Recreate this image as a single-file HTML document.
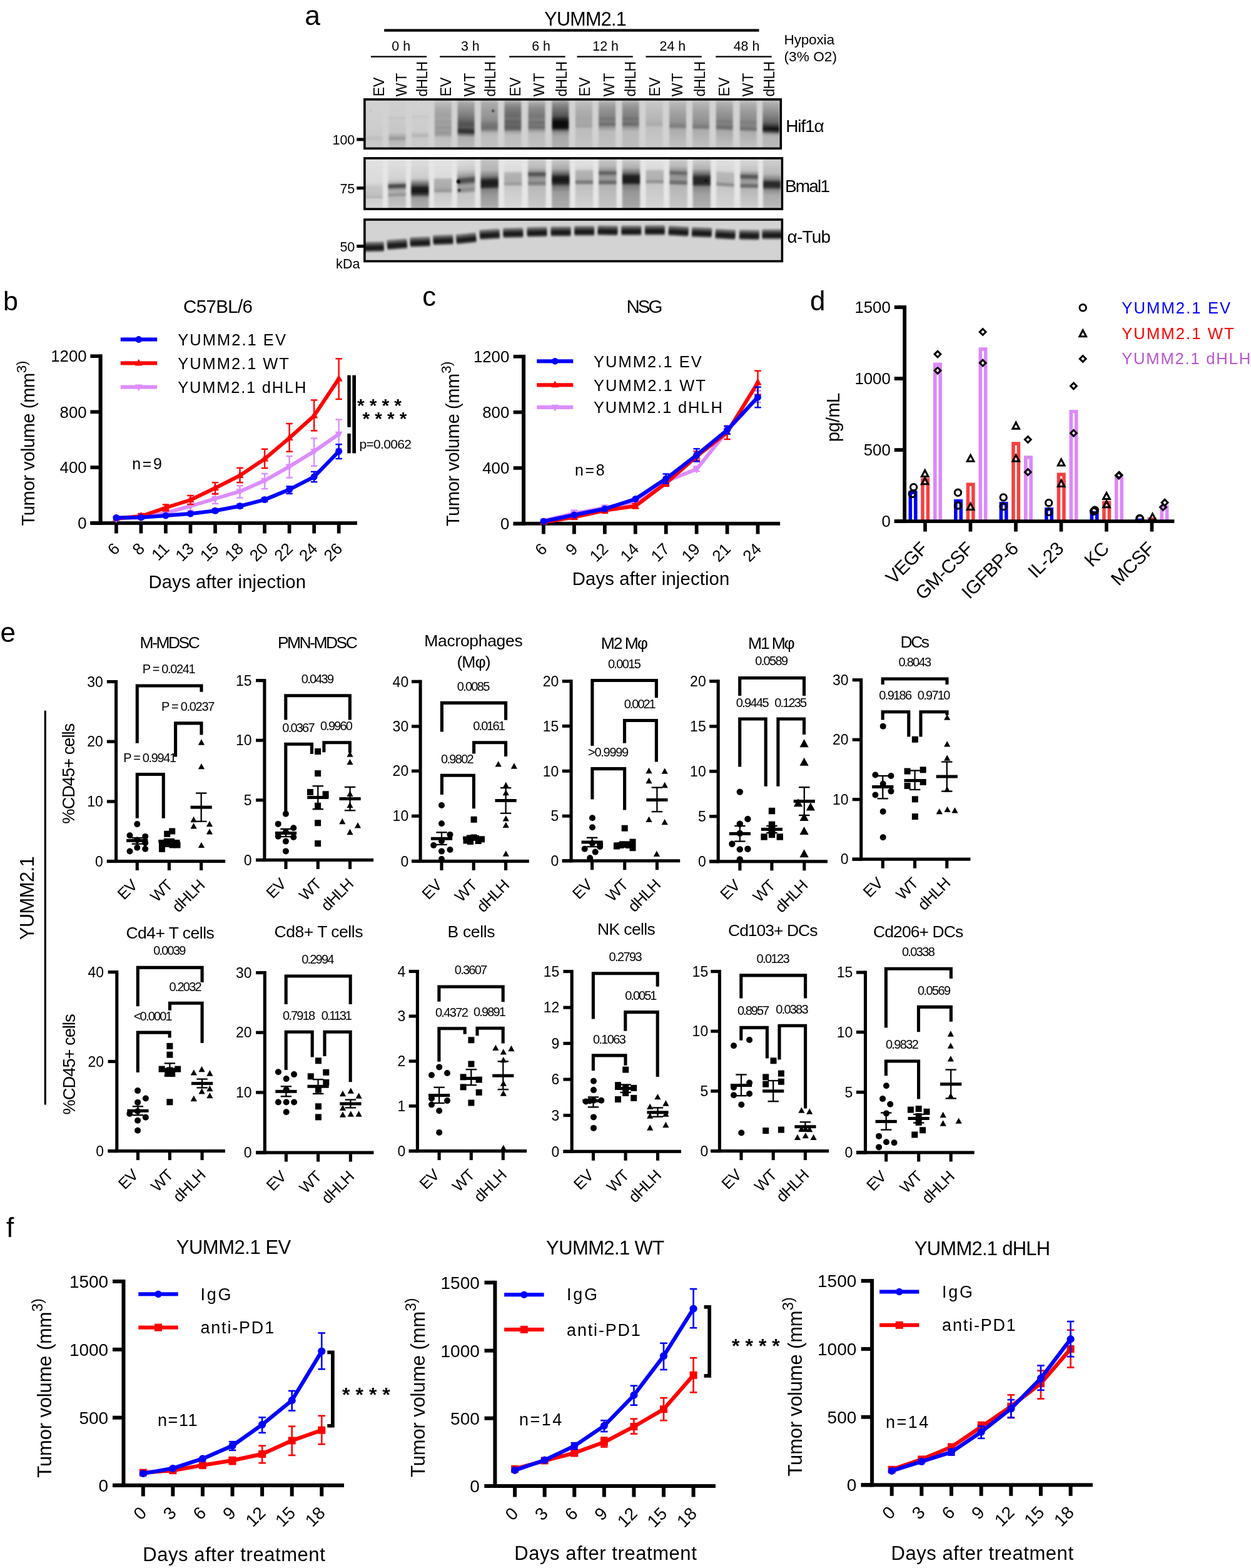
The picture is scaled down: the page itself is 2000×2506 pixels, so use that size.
<!DOCTYPE html>
<html lang="en"><head><meta charset="utf-8"><title>Figure</title>
<style>html,body{margin:0;padding:0;background:#fff}svg{display:block}text{font-family:"Liberation Sans",sans-serif}</style></head>
<body><svg xmlns="http://www.w3.org/2000/svg" width="2000" height="2506" viewBox="0 0 2000 2506">
<defs><filter id="bl1" x="-50%" y="-50%" width="200%" height="200%"><feGaussianBlur stdDeviation="0.8"/></filter><filter id="bl2" x="-20%" y="-50%" width="140%" height="200%"><feGaussianBlur stdDeviation="1.6"/></filter><filter id="blh" x="-5%" y="-20%" width="110%" height="140%"><feGaussianBlur stdDeviation="1.5 0.9"/></filter><filter id="bl3" x="-20%" y="-20%" width="140%" height="140%"><feGaussianBlur stdDeviation="2.2"/></filter></defs>
<rect width="2000" height="2506" fill="#fff"/>
<text x="487.3" y="39.5" font-size="44.5">a</text>
<text x="870.3" y="41" font-size="30.5" textLength="131.5" lengthAdjust="spacing">YUMM2.1</text>
<rect x="614.2" y="46.4" width="599.3" height="4.2" fill="#000"/>
<rect x="592.9" y="89.4" width="89.3" height="2.3" fill="#000"/>
<text x="641.2" y="80.9" font-size="21.4" text-anchor="middle">0 h</text>
<rect x="703.1" y="89.4" width="88.9" height="2.3" fill="#000"/>
<text x="751.8" y="80.9" font-size="21.4" text-anchor="middle">3 h</text>
<rect x="814.2" y="89.4" width="89.5" height="2.3" fill="#000"/>
<text x="865.05" y="80.9" font-size="21.4" text-anchor="middle">6 h</text>
<rect x="922.5" y="89.4" width="89.3" height="2.3" fill="#000"/>
<text x="968.15" y="80.9" font-size="21.4" text-anchor="middle">12 h</text>
<rect x="1032.5" y="89.4" width="89.3" height="2.3" fill="#000"/>
<text x="1075.35" y="80.9" font-size="21.4" text-anchor="middle">24 h</text>
<rect x="1144.2" y="89.4" width="89.5" height="2.3" fill="#000"/>
<text x="1193.55" y="80.9" font-size="21.4" text-anchor="middle">48 h</text>
<text transform="translate(614.4 154.2) rotate(-90)" font-size="23" textLength="30.6" lengthAdjust="spacing">EV</text>
<text transform="translate(650.1 154.2) rotate(-90)" font-size="23" textLength="37.6" lengthAdjust="spacing">WT</text>
<text transform="translate(683.4 154.4) rotate(-90)" font-size="23" textLength="56.5" lengthAdjust="spacing">dHLH</text>
<text transform="translate(720.7 154.2) rotate(-90)" font-size="23" textLength="30.6" lengthAdjust="spacing">EV</text>
<text transform="translate(759.1 154.2) rotate(-90)" font-size="23" textLength="37.6" lengthAdjust="spacing">WT</text>
<text transform="translate(791.6 154.4) rotate(-90)" font-size="23" textLength="56.5" lengthAdjust="spacing">dHLH</text>
<text transform="translate(831.8 154.2) rotate(-90)" font-size="23" textLength="30.6" lengthAdjust="spacing">EV</text>
<text transform="translate(870.4 154.2) rotate(-90)" font-size="23" textLength="37.6" lengthAdjust="spacing">WT</text>
<text transform="translate(905.6 154.4) rotate(-90)" font-size="23" textLength="56.5" lengthAdjust="spacing">dHLH</text>
<text transform="translate(943.4 154.2) rotate(-90)" font-size="23" textLength="30.6" lengthAdjust="spacing">EV</text>
<text transform="translate(981.6 154.2) rotate(-90)" font-size="23" textLength="37.6" lengthAdjust="spacing">WT</text>
<text transform="translate(1015.8 154.4) rotate(-90)" font-size="23" textLength="56.5" lengthAdjust="spacing">dHLH</text>
<text transform="translate(1054.5 154.2) rotate(-90)" font-size="23" textLength="30.6" lengthAdjust="spacing">EV</text>
<text transform="translate(1091.3 154.2) rotate(-90)" font-size="23" textLength="37.6" lengthAdjust="spacing">WT</text>
<text transform="translate(1127 154.4) rotate(-90)" font-size="23" textLength="56.5" lengthAdjust="spacing">dHLH</text>
<text transform="translate(1165.7 154.2) rotate(-90)" font-size="23" textLength="30.6" lengthAdjust="spacing">EV</text>
<text transform="translate(1203.6 154.2) rotate(-90)" font-size="23" textLength="37.6" lengthAdjust="spacing">WT</text>
<text transform="translate(1237.6 154.4) rotate(-90)" font-size="23" textLength="56.5" lengthAdjust="spacing">dHLH</text>
<text x="1253.5" y="71.2" font-size="22.6" textLength="80.5" lengthAdjust="spacing">Hypoxia</text>
<text x="1253.5" y="97.6" font-size="22.6" textLength="84.5" lengthAdjust="spacing">(3% O2)</text>
<text x="1256.2" y="211.2" font-size="28" textLength="61.5" lengthAdjust="spacing">Hif1α</text>
<text x="1255" y="306.8" font-size="28" textLength="72" lengthAdjust="spacing">Bmal1</text>
<text x="1258.5" y="388.2" font-size="28" textLength="69.5" lengthAdjust="spacing">α-Tub</text>
<text x="567.3" y="231" font-size="21.5" text-anchor="end">100</text>
<rect x="570.2" y="220.4" width="11" height="5" fill="#000"/>
<text x="567.3" y="309.2" font-size="21.5" text-anchor="end">75</text>
<rect x="570.2" y="298.1" width="11" height="5" fill="#000"/>
<text x="567.3" y="401.6" font-size="21.5" text-anchor="end">50</text>
<rect x="570.2" y="391" width="11" height="5" fill="#000"/>
<text x="537" y="428.8" font-size="21.5" textLength="38.5" lengthAdjust="spacing">kDa</text>
<clipPath id="bc1"><rect x="581.1" y="157.1" width="669" height="82"/></clipPath>
<linearGradient id="g1_0" gradientUnits="userSpaceOnUse" x1="0" y1="160" x2="0" y2="236"><stop offset="0" stop-color="#d2d2d2"/><stop offset="0.53" stop-color="#cecece"/><stop offset="0.74" stop-color="#cacaca"/><stop offset="0.8" stop-color="#bebebe"/><stop offset="0.87" stop-color="#c8c8c8"/><stop offset="1" stop-color="#cbcbcb"/></linearGradient>
<linearGradient id="g1_1" gradientUnits="userSpaceOnUse" x1="0" y1="160" x2="0" y2="236"><stop offset="0" stop-color="#d0d0d0"/><stop offset="0.34" stop-color="#cdcdcd"/><stop offset="0.38" stop-color="#c1c1c1"/><stop offset="0.41" stop-color="#cbcbcb"/><stop offset="0.68" stop-color="#c6c6c6"/><stop offset="0.76" stop-color="#acacac"/><stop offset="0.81" stop-color="#969696"/><stop offset="0.86" stop-color="#b6b6b6"/><stop offset="1" stop-color="#c2c2c2"/></linearGradient>
<linearGradient id="g1_2" gradientUnits="userSpaceOnUse" x1="0" y1="160" x2="0" y2="236"><stop offset="0" stop-color="#d2d2d2"/><stop offset="0.32" stop-color="#cfcfcf"/><stop offset="0.35" stop-color="#c5c5c5"/><stop offset="0.38" stop-color="#cfcfcf"/><stop offset="0.66" stop-color="#cccccc"/><stop offset="0.75" stop-color="#b2b2b2"/><stop offset="0.8" stop-color="#c8c8c8"/><stop offset="1" stop-color="#cbcbcb"/></linearGradient>
<linearGradient id="g1_3" gradientUnits="userSpaceOnUse" x1="0" y1="160" x2="0" y2="236"><stop offset="0" stop-color="#c6c6c6"/><stop offset="0.08" stop-color="#b9b9b9"/><stop offset="0.16" stop-color="#acacac"/><stop offset="0.26" stop-color="#a5a5a5"/><stop offset="0.34" stop-color="#a0a0a0"/><stop offset="0.39" stop-color="#a5a5a5"/><stop offset="0.46" stop-color="#9b9b9b"/><stop offset="0.51" stop-color="#a2a2a2"/><stop offset="0.58" stop-color="#969696"/><stop offset="0.63" stop-color="#9e9e9e"/><stop offset="0.7" stop-color="#969696"/><stop offset="0.75" stop-color="#aaaaaa"/><stop offset="0.8" stop-color="#c0c0c0"/><stop offset="1" stop-color="#c4c4c4"/></linearGradient>
<linearGradient id="g1_4" gradientUnits="userSpaceOnUse" x1="0" y1="160" x2="0" y2="236"><stop offset="0" stop-color="#bebebe"/><stop offset="0.07" stop-color="#a5a5a5"/><stop offset="0.16" stop-color="#969696"/><stop offset="0.26" stop-color="#878787"/><stop offset="0.37" stop-color="#737373"/><stop offset="0.45" stop-color="#5f5f5f"/><stop offset="0.51" stop-color="#505050"/><stop offset="0.57" stop-color="#5a5a5a"/><stop offset="0.63" stop-color="#373737"/><stop offset="0.68" stop-color="#323232"/><stop offset="0.72" stop-color="#6e6e6e"/><stop offset="0.78" stop-color="#afafaf"/><stop offset="1" stop-color="#bababa"/></linearGradient>
<linearGradient id="g1_5" gradientUnits="userSpaceOnUse" x1="0" y1="160" x2="0" y2="236"><stop offset="0" stop-color="#bebebe"/><stop offset="0.08" stop-color="#a8a8a8"/><stop offset="0.2" stop-color="#9e9e9e"/><stop offset="0.33" stop-color="#969696"/><stop offset="0.42" stop-color="#8c8c8c"/><stop offset="0.5" stop-color="#787878"/><stop offset="0.58" stop-color="#6e6e6e"/><stop offset="0.63" stop-color="#828282"/><stop offset="0.68" stop-color="#afafaf"/><stop offset="0.76" stop-color="#bebebe"/><stop offset="1" stop-color="#c2c2c2"/></linearGradient>
<linearGradient id="g1_6" gradientUnits="userSpaceOnUse" x1="0" y1="160" x2="0" y2="236"><stop offset="0" stop-color="#b9b9b9"/><stop offset="0.08" stop-color="#969696"/><stop offset="0.16" stop-color="#7d7d7d"/><stop offset="0.26" stop-color="#707070"/><stop offset="0.34" stop-color="#696969"/><stop offset="0.39" stop-color="#737373"/><stop offset="0.46" stop-color="#5f5f5f"/><stop offset="0.51" stop-color="#696969"/><stop offset="0.57" stop-color="#5a5a5a"/><stop offset="0.62" stop-color="#6e6e6e"/><stop offset="0.67" stop-color="#a5a5a5"/><stop offset="0.74" stop-color="#bcbcbc"/><stop offset="1" stop-color="#c2c2c2"/></linearGradient>
<linearGradient id="g1_7" gradientUnits="userSpaceOnUse" x1="0" y1="160" x2="0" y2="236"><stop offset="0" stop-color="#bebebe"/><stop offset="0.08" stop-color="#a5a5a5"/><stop offset="0.16" stop-color="#8c8c8c"/><stop offset="0.26" stop-color="#808080"/><stop offset="0.34" stop-color="#767676"/><stop offset="0.41" stop-color="#808080"/><stop offset="0.47" stop-color="#707070"/><stop offset="0.53" stop-color="#787878"/><stop offset="0.58" stop-color="#6c6c6c"/><stop offset="0.63" stop-color="#969696"/><stop offset="0.7" stop-color="#bababa"/><stop offset="1" stop-color="#c3c3c3"/></linearGradient>
<linearGradient id="g1_8" gradientUnits="userSpaceOnUse" x1="0" y1="160" x2="0" y2="236"><stop offset="0" stop-color="#afafaf"/><stop offset="0.08" stop-color="#8c8c8c"/><stop offset="0.16" stop-color="#787878"/><stop offset="0.26" stop-color="#646464"/><stop offset="0.34" stop-color="#505050"/><stop offset="0.39" stop-color="#2d2d2d"/><stop offset="0.45" stop-color="#0f0f0f"/><stop offset="0.53" stop-color="#080808"/><stop offset="0.58" stop-color="#0c0c0c"/><stop offset="0.62" stop-color="#464646"/><stop offset="0.67" stop-color="#8c8c8c"/><stop offset="0.76" stop-color="#a8a8a8"/><stop offset="1" stop-color="#b2b2b2"/></linearGradient>
<linearGradient id="g1_9" gradientUnits="userSpaceOnUse" x1="0" y1="160" x2="0" y2="236"><stop offset="0" stop-color="#c6c6c6"/><stop offset="0.13" stop-color="#b6b6b6"/><stop offset="0.26" stop-color="#acacac"/><stop offset="0.39" stop-color="#a5a5a5"/><stop offset="0.5" stop-color="#a8a8a8"/><stop offset="0.54" stop-color="#a0a0a0"/><stop offset="0.61" stop-color="#bcbcbc"/><stop offset="1" stop-color="#c5c5c5"/></linearGradient>
<linearGradient id="g1_10" gradientUnits="userSpaceOnUse" x1="0" y1="160" x2="0" y2="236"><stop offset="0" stop-color="#bebebe"/><stop offset="0.08" stop-color="#a5a5a5"/><stop offset="0.2" stop-color="#919191"/><stop offset="0.33" stop-color="#878787"/><stop offset="0.39" stop-color="#767676"/><stop offset="0.45" stop-color="#808080"/><stop offset="0.51" stop-color="#6c6c6c"/><stop offset="0.58" stop-color="#9b9b9b"/><stop offset="0.66" stop-color="#bababa"/><stop offset="1" stop-color="#c1c1c1"/></linearGradient>
<linearGradient id="g1_11" gradientUnits="userSpaceOnUse" x1="0" y1="160" x2="0" y2="236"><stop offset="0" stop-color="#bcbcbc"/><stop offset="0.08" stop-color="#a0a0a0"/><stop offset="0.2" stop-color="#8c8c8c"/><stop offset="0.33" stop-color="#808080"/><stop offset="0.39" stop-color="#707070"/><stop offset="0.45" stop-color="#7a7a7a"/><stop offset="0.51" stop-color="#696969"/><stop offset="0.58" stop-color="#9b9b9b"/><stop offset="0.66" stop-color="#b8b8b8"/><stop offset="1" stop-color="#bebebe"/></linearGradient>
<linearGradient id="g1_12" gradientUnits="userSpaceOnUse" x1="0" y1="160" x2="0" y2="236"><stop offset="0" stop-color="#cccccc"/><stop offset="0.16" stop-color="#c0c0c0"/><stop offset="0.39" stop-color="#b6b6b6"/><stop offset="0.52" stop-color="#acacac"/><stop offset="0.58" stop-color="#c0c0c0"/><stop offset="1" stop-color="#c9c9c9"/></linearGradient>
<linearGradient id="g1_13" gradientUnits="userSpaceOnUse" x1="0" y1="160" x2="0" y2="236"><stop offset="0" stop-color="#c4c4c4"/><stop offset="0.11" stop-color="#b2b2b2"/><stop offset="0.26" stop-color="#a2a2a2"/><stop offset="0.39" stop-color="#989898"/><stop offset="0.47" stop-color="#919191"/><stop offset="0.55" stop-color="#7a7a7a"/><stop offset="0.62" stop-color="#acacac"/><stop offset="1" stop-color="#c3c3c3"/></linearGradient>
<linearGradient id="g1_14" gradientUnits="userSpaceOnUse" x1="0" y1="160" x2="0" y2="236"><stop offset="0" stop-color="#c2c2c2"/><stop offset="0.11" stop-color="#afafaf"/><stop offset="0.26" stop-color="#a0a0a0"/><stop offset="0.39" stop-color="#969696"/><stop offset="0.49" stop-color="#8c8c8c"/><stop offset="0.57" stop-color="#767676"/><stop offset="0.63" stop-color="#acacac"/><stop offset="1" stop-color="#c1c1c1"/></linearGradient>
<linearGradient id="g1_15" gradientUnits="userSpaceOnUse" x1="0" y1="160" x2="0" y2="236"><stop offset="0" stop-color="#c0c0c0"/><stop offset="0.11" stop-color="#a8a8a8"/><stop offset="0.26" stop-color="#969696"/><stop offset="0.39" stop-color="#8a8a8a"/><stop offset="0.45" stop-color="#7a7a7a"/><stop offset="0.51" stop-color="#828282"/><stop offset="0.58" stop-color="#696969"/><stop offset="0.65" stop-color="#a8a8a8"/><stop offset="1" stop-color="#c3c3c3"/></linearGradient>
<linearGradient id="g1_16" gradientUnits="userSpaceOnUse" x1="0" y1="160" x2="0" y2="236"><stop offset="0" stop-color="#c2c2c2"/><stop offset="0.11" stop-color="#aaaaaa"/><stop offset="0.26" stop-color="#989898"/><stop offset="0.39" stop-color="#8e8e8e"/><stop offset="0.47" stop-color="#7d7d7d"/><stop offset="0.53" stop-color="#878787"/><stop offset="0.61" stop-color="#6e6e6e"/><stop offset="0.67" stop-color="#acacac"/><stop offset="1" stop-color="#c4c4c4"/></linearGradient>
<linearGradient id="g1_17" gradientUnits="userSpaceOnUse" x1="0" y1="160" x2="0" y2="236"><stop offset="0" stop-color="#c0c0c0"/><stop offset="0.08" stop-color="#acacac"/><stop offset="0.2" stop-color="#989898"/><stop offset="0.33" stop-color="#828282"/><stop offset="0.47" stop-color="#646464"/><stop offset="0.55" stop-color="#323232"/><stop offset="0.61" stop-color="#0f0f0f"/><stop offset="0.66" stop-color="#3c3c3c"/><stop offset="0.71" stop-color="#969696"/><stop offset="0.76" stop-color="#b4b4b4"/><stop offset="1" stop-color="#bababa"/></linearGradient>
<g clip-path="url(#bc1)">
<rect x="581.1" y="157.1" width="669" height="82" fill="#d2d2d2"/>
<g filter="url(#blh)">
<rect x="584.6" y="151.1" width="27" height="94" fill="url(#g1_0)"/>
<rect x="621.5" y="151.1" width="27" height="94" fill="url(#g1_1)"/>
<rect x="658.1" y="151.1" width="27" height="94" fill="url(#g1_2)"/>
<rect x="694.8" y="151.1" width="27" height="94" fill="url(#g1_3)"/>
<rect x="731.6" y="151.1" width="27" height="94" fill="url(#g1_4)" transform="translate(745.1 0) skewY(2) translate(-745.1 0)"/>
<rect x="769" y="151.1" width="27" height="94" fill="url(#g1_5)"/>
<rect x="806.4" y="151.1" width="27" height="94" fill="url(#g1_6)"/>
<rect x="844.5" y="151.1" width="27" height="94" fill="url(#g1_7)"/>
<rect x="882.4" y="151.1" width="27" height="94" fill="url(#g1_8)"/>
<rect x="919.9" y="151.1" width="27" height="94" fill="url(#g1_9)"/>
<rect x="957.1" y="151.1" width="27" height="94" fill="url(#g1_10)"/>
<rect x="994.7" y="151.1" width="27" height="94" fill="url(#g1_11)"/>
<rect x="1032.3" y="151.1" width="27" height="94" fill="url(#g1_12)"/>
<rect x="1070" y="151.1" width="27" height="94" fill="url(#g1_13)" transform="translate(1083.5 0) skewY(1) translate(-1083.5 0)"/>
<rect x="1107.1" y="151.1" width="27" height="94" fill="url(#g1_14)" transform="translate(1120.6 0) skewY(1) translate(-1120.6 0)"/>
<rect x="1144.7" y="151.1" width="27" height="94" fill="url(#g1_15)" transform="translate(1158.2 0) skewY(2) translate(-1158.2 0)"/>
<rect x="1182.8" y="151.1" width="27" height="94" fill="url(#g1_16)" transform="translate(1196.3 0) skewY(2) translate(-1196.3 0)"/>
<rect x="1219.2" y="151.1" width="27" height="94" fill="url(#g1_17)" transform="translate(1232.7 0) skewY(2) translate(-1232.7 0)"/>
</g>
<g filter="url(#bl1)">
<circle cx="788.2" cy="177.2" r="1.7" fill="#141414"/>
<circle cx="593" cy="177.5" r="1.3" fill="#b9b9b9"/>
</g>
</g>
<rect x="582.9" y="158.9" width="665.4" height="78.4" fill="none" stroke="#000" stroke-width="3.6"/>
<clipPath id="bc2"><rect x="581.1" y="251.1" width="671.1" height="84.8"/></clipPath>
<linearGradient id="g2_0" gradientUnits="userSpaceOnUse" x1="0" y1="254" x2="0" y2="333"><stop offset="0" stop-color="#e2e2e2"/><stop offset="0.48" stop-color="#dadada"/><stop offset="0.57" stop-color="#c6c6c6"/><stop offset="0.73" stop-color="#c0c0c0"/><stop offset="0.78" stop-color="#b2b2b2"/><stop offset="0.81" stop-color="#d0d0d0"/><stop offset="1" stop-color="#d6d6d6"/></linearGradient>
<linearGradient id="g2_1" gradientUnits="userSpaceOnUse" x1="0" y1="254" x2="0" y2="333"><stop offset="0" stop-color="#e1e1e1"/><stop offset="0.41" stop-color="#d2d2d2"/><stop offset="0.48" stop-color="#b4b4b4"/><stop offset="0.53" stop-color="#4e4e4e"/><stop offset="0.57" stop-color="#4e4e4e"/><stop offset="0.61" stop-color="#969696"/><stop offset="0.66" stop-color="#b2b2b2"/><stop offset="0.73" stop-color="#949494"/><stop offset="0.78" stop-color="#b9b9b9"/><stop offset="1" stop-color="#c6c6c6"/></linearGradient>
<linearGradient id="g2_2" gradientUnits="userSpaceOnUse" x1="0" y1="254" x2="0" y2="333"><stop offset="0" stop-color="#dedede"/><stop offset="0.39" stop-color="#cdcdcd"/><stop offset="0.51" stop-color="#6e6e6e"/><stop offset="0.58" stop-color="#222222"/><stop offset="0.66" stop-color="#161616"/><stop offset="0.72" stop-color="#3c3c3c"/><stop offset="0.78" stop-color="#969696"/><stop offset="0.86" stop-color="#a5a5a5"/><stop offset="1" stop-color="#acacac"/></linearGradient>
<linearGradient id="g2_3" gradientUnits="userSpaceOnUse" x1="0" y1="254" x2="0" y2="333"><stop offset="0" stop-color="#e4e4e4"/><stop offset="0.37" stop-color="#dcdcdc"/><stop offset="0.42" stop-color="#b2b2b2"/><stop offset="0.58" stop-color="#aaaaaa"/><stop offset="0.65" stop-color="#969696"/><stop offset="0.7" stop-color="#c8c8c8"/><stop offset="1" stop-color="#dadada"/></linearGradient>
<linearGradient id="g2_4" gradientUnits="userSpaceOnUse" x1="0" y1="254" x2="0" y2="333"><stop offset="0" stop-color="#dedede"/><stop offset="0.2" stop-color="#cdcdcd"/><stop offset="0.28" stop-color="#b6b6b6"/><stop offset="0.35" stop-color="#969696"/><stop offset="0.39" stop-color="#646464"/><stop offset="0.42" stop-color="#4e4e4e"/><stop offset="0.45" stop-color="#4e4e4e"/><stop offset="0.48" stop-color="#646464"/><stop offset="0.52" stop-color="#969696"/><stop offset="0.56" stop-color="#a5a5a5"/><stop offset="0.59" stop-color="#969696"/><stop offset="0.63" stop-color="#8c8c8c"/><stop offset="0.66" stop-color="#9b9b9b"/><stop offset="0.7" stop-color="#c3c3c3"/><stop offset="1" stop-color="#d0d0d0"/></linearGradient>
<linearGradient id="g2_5" gradientUnits="userSpaceOnUse" x1="0" y1="254" x2="0" y2="333"><stop offset="0" stop-color="#c4c4c4"/><stop offset="0.23" stop-color="#b4b4b4"/><stop offset="0.35" stop-color="#7d7d7d"/><stop offset="0.43" stop-color="#282828"/><stop offset="0.49" stop-color="#1a1a1a"/><stop offset="0.56" stop-color="#282828"/><stop offset="0.62" stop-color="#828282"/><stop offset="0.73" stop-color="#989898"/><stop offset="0.86" stop-color="#a2a2a2"/><stop offset="1" stop-color="#aeaeae"/></linearGradient>
<linearGradient id="g2_6" gradientUnits="userSpaceOnUse" x1="0" y1="254" x2="0" y2="333"><stop offset="0" stop-color="#e4e4e4"/><stop offset="0.24" stop-color="#dcdcdc"/><stop offset="0.29" stop-color="#b4b4b4"/><stop offset="0.46" stop-color="#acacac"/><stop offset="0.51" stop-color="#989898"/><stop offset="0.56" stop-color="#c8c8c8"/><stop offset="1" stop-color="#dadada"/></linearGradient>
<linearGradient id="g2_7" gradientUnits="userSpaceOnUse" x1="0" y1="254" x2="0" y2="333"><stop offset="0" stop-color="#cdcdcd"/><stop offset="0.18" stop-color="#b9b9b9"/><stop offset="0.25" stop-color="#969696"/><stop offset="0.29" stop-color="#555555"/><stop offset="0.33" stop-color="#555555"/><stop offset="0.37" stop-color="#8c8c8c"/><stop offset="0.43" stop-color="#9b9b9b"/><stop offset="0.48" stop-color="#808080"/><stop offset="0.51" stop-color="#808080"/><stop offset="0.56" stop-color="#b9b9b9"/><stop offset="1" stop-color="#cacaca"/></linearGradient>
<linearGradient id="g2_8" gradientUnits="userSpaceOnUse" x1="0" y1="254" x2="0" y2="333"><stop offset="0" stop-color="#cdcdcd"/><stop offset="0.2" stop-color="#aaaaaa"/><stop offset="0.3" stop-color="#646464"/><stop offset="0.37" stop-color="#1e1e1e"/><stop offset="0.43" stop-color="#161616"/><stop offset="0.49" stop-color="#272727"/><stop offset="0.56" stop-color="#787878"/><stop offset="0.68" stop-color="#9b9b9b"/><stop offset="0.84" stop-color="#a5a5a5"/><stop offset="1" stop-color="#acacac"/></linearGradient>
<linearGradient id="g2_9" gradientUnits="userSpaceOnUse" x1="0" y1="254" x2="0" y2="333"><stop offset="0" stop-color="#e4e4e4"/><stop offset="0.2" stop-color="#d7d7d7"/><stop offset="0.25" stop-color="#b4b4b4"/><stop offset="0.41" stop-color="#acacac"/><stop offset="0.45" stop-color="#7d7d7d"/><stop offset="0.49" stop-color="#7d7d7d"/><stop offset="0.53" stop-color="#bebebe"/><stop offset="1" stop-color="#d4d4d4"/></linearGradient>
<linearGradient id="g2_10" gradientUnits="userSpaceOnUse" x1="0" y1="254" x2="0" y2="333"><stop offset="0" stop-color="#c8c8c8"/><stop offset="0.15" stop-color="#b6b6b6"/><stop offset="0.23" stop-color="#969696"/><stop offset="0.27" stop-color="#626262"/><stop offset="0.3" stop-color="#626262"/><stop offset="0.34" stop-color="#919191"/><stop offset="0.41" stop-color="#9b9b9b"/><stop offset="0.46" stop-color="#696969"/><stop offset="0.49" stop-color="#696969"/><stop offset="0.54" stop-color="#b4b4b4"/><stop offset="1" stop-color="#c6c6c6"/></linearGradient>
<linearGradient id="g2_11" gradientUnits="userSpaceOnUse" x1="0" y1="254" x2="0" y2="333"><stop offset="0" stop-color="#cdcdcd"/><stop offset="0.18" stop-color="#afafaf"/><stop offset="0.28" stop-color="#6e6e6e"/><stop offset="0.34" stop-color="#282828"/><stop offset="0.41" stop-color="#181818"/><stop offset="0.48" stop-color="#232323"/><stop offset="0.54" stop-color="#7d7d7d"/><stop offset="0.66" stop-color="#969696"/><stop offset="0.84" stop-color="#a0a0a0"/><stop offset="1" stop-color="#a8a8a8"/></linearGradient>
<linearGradient id="g2_12" gradientUnits="userSpaceOnUse" x1="0" y1="254" x2="0" y2="333"><stop offset="0" stop-color="#e4e4e4"/><stop offset="0.2" stop-color="#dadada"/><stop offset="0.25" stop-color="#b6b6b6"/><stop offset="0.41" stop-color="#b0b0b0"/><stop offset="0.46" stop-color="#8c8c8c"/><stop offset="0.52" stop-color="#c6c6c6"/><stop offset="1" stop-color="#d6d6d6"/></linearGradient>
<linearGradient id="g2_13" gradientUnits="userSpaceOnUse" x1="0" y1="254" x2="0" y2="333"><stop offset="0" stop-color="#cdcdcd"/><stop offset="0.15" stop-color="#b9b9b9"/><stop offset="0.23" stop-color="#969696"/><stop offset="0.27" stop-color="#696969"/><stop offset="0.3" stop-color="#696969"/><stop offset="0.34" stop-color="#919191"/><stop offset="0.41" stop-color="#989898"/><stop offset="0.46" stop-color="#707070"/><stop offset="0.5" stop-color="#707070"/><stop offset="0.54" stop-color="#b4b4b4"/><stop offset="1" stop-color="#c8c8c8"/></linearGradient>
<linearGradient id="g2_14" gradientUnits="userSpaceOnUse" x1="0" y1="254" x2="0" y2="333"><stop offset="0" stop-color="#d0d0d0"/><stop offset="0.2" stop-color="#b2b2b2"/><stop offset="0.3" stop-color="#6e6e6e"/><stop offset="0.37" stop-color="#2d2d2d"/><stop offset="0.44" stop-color="#242424"/><stop offset="0.51" stop-color="#2d2d2d"/><stop offset="0.57" stop-color="#878787"/><stop offset="0.71" stop-color="#a0a0a0"/><stop offset="1" stop-color="#b2b2b2"/></linearGradient>
<linearGradient id="g2_15" gradientUnits="userSpaceOnUse" x1="0" y1="254" x2="0" y2="333"><stop offset="0" stop-color="#e1e1e1"/><stop offset="0.24" stop-color="#d7d7d7"/><stop offset="0.29" stop-color="#b9b9b9"/><stop offset="0.46" stop-color="#b2b2b2"/><stop offset="0.52" stop-color="#878787"/><stop offset="0.58" stop-color="#c6c6c6"/><stop offset="1" stop-color="#d6d6d6"/></linearGradient>
<linearGradient id="g2_16" gradientUnits="userSpaceOnUse" x1="0" y1="254" x2="0" y2="333"><stop offset="0" stop-color="#dadada"/><stop offset="0.23" stop-color="#c3c3c3"/><stop offset="0.3" stop-color="#969696"/><stop offset="0.34" stop-color="#585858"/><stop offset="0.38" stop-color="#585858"/><stop offset="0.42" stop-color="#919191"/><stop offset="0.48" stop-color="#a0a0a0"/><stop offset="0.53" stop-color="#6c6c6c"/><stop offset="0.56" stop-color="#6c6c6c"/><stop offset="0.61" stop-color="#b6b6b6"/><stop offset="1" stop-color="#d0d0d0"/></linearGradient>
<linearGradient id="g2_17" gradientUnits="userSpaceOnUse" x1="0" y1="254" x2="0" y2="333"><stop offset="0" stop-color="#d0d0d0"/><stop offset="0.3" stop-color="#b9b9b9"/><stop offset="0.41" stop-color="#828282"/><stop offset="0.47" stop-color="#323232"/><stop offset="0.51" stop-color="#272727"/><stop offset="0.57" stop-color="#323232"/><stop offset="0.63" stop-color="#8c8c8c"/><stop offset="0.73" stop-color="#aaaaaa"/><stop offset="1" stop-color="#bcbcbc"/></linearGradient>
<g clip-path="url(#bc2)">
<rect x="581.1" y="251.1" width="671.1" height="84.8" fill="#e6e6e6"/>
<g filter="url(#blh)">
<rect x="583.4" y="245.1" width="28.5" height="96.8" fill="url(#g2_0)"/>
<rect x="620.42" y="245.1" width="28.5" height="96.8" fill="url(#g2_1)" transform="translate(634.67 0) skewY(-2) translate(-634.67 0)"/>
<rect x="657.13" y="245.1" width="28.5" height="96.8" fill="url(#g2_2)"/>
<rect x="693.94" y="245.1" width="28.5" height="96.8" fill="url(#g2_3)"/>
<rect x="730.86" y="245.1" width="28.5" height="96.8" fill="url(#g2_4)" transform="translate(745.11 0) skewY(-5) translate(-745.11 0)"/>
<rect x="768.37" y="245.1" width="28.5" height="96.8" fill="url(#g2_5)" transform="translate(782.62 0) skewY(-2) translate(-782.62 0)"/>
<rect x="805.89" y="245.1" width="28.5" height="96.8" fill="url(#g2_6)"/>
<rect x="844.11" y="245.1" width="28.5" height="96.8" fill="url(#g2_7)"/>
<rect x="882.13" y="245.1" width="28.5" height="96.8" fill="url(#g2_8)"/>
<rect x="919.74" y="245.1" width="28.5" height="96.8" fill="url(#g2_9)"/>
<rect x="957.06" y="245.1" width="28.5" height="96.8" fill="url(#g2_10)"/>
<rect x="994.77" y="245.1" width="28.5" height="96.8" fill="url(#g2_11)"/>
<rect x="1032.49" y="245.1" width="28.5" height="96.8" fill="url(#g2_12)"/>
<rect x="1070.31" y="245.1" width="28.5" height="96.8" fill="url(#g2_13)" transform="translate(1084.56 0) skewY(2) translate(-1084.56 0)"/>
<rect x="1107.52" y="245.1" width="28.5" height="96.8" fill="url(#g2_14)"/>
<rect x="1145.24" y="245.1" width="28.5" height="96.8" fill="url(#g2_15)" transform="translate(1159.49 0) skewY(4) translate(-1159.49 0)"/>
<rect x="1183.46" y="245.1" width="28.5" height="96.8" fill="url(#g2_16)" transform="translate(1197.71 0) skewY(1) translate(-1197.71 0)"/>
<rect x="1219.97" y="245.1" width="28.5" height="96.8" fill="url(#g2_17)" transform="translate(1234.22 0) skewY(1) translate(-1234.22 0)"/>
</g>
<g filter="url(#bl1)">
<circle cx="733" cy="290.1" r="2.9" fill="#000000"/>
<circle cx="734.4" cy="304.1" r="2.3" fill="#323232"/>
<circle cx="1128.5" cy="288.8" r="1.8" fill="#000000"/>
</g>
</g>
<rect x="582.9" y="252.9" width="667.5" height="81.2" fill="none" stroke="#000" stroke-width="3.6"/>
<clipPath id="bc3"><rect x="581.1" y="349.2" width="671.1" height="70.1"/></clipPath>
<g clip-path="url(#bc3)">
<rect x="581.1" y="349.2" width="671.1" height="70.1" fill="#d3d3d3"/>
<g filter="url(#bl2)">
<rect x="581.6" y="386.25" width="32.5" height="16.5" rx="2.5" fill="#737373" opacity="0.85" transform="rotate(-1 597.85 394.5)"/>
<rect x="581.85" y="389.3" width="32" height="12" rx="2.5" fill="#414141" opacity="0.85" transform="rotate(-1 597.85 394.5)"/>
<rect x="582.1" y="392.55" width="31.5" height="7.5" rx="2.5" fill="#191919" opacity="0.85" transform="rotate(-1 597.85 394.5)"/>
<rect x="618.62" y="382.25" width="32.5" height="16.5" rx="2.5" fill="#737373" opacity="0.85" transform="rotate(-4 634.87 390.5)"/>
<rect x="618.87" y="385.3" width="32" height="12" rx="2.5" fill="#414141" opacity="0.85" transform="rotate(-4 634.87 390.5)"/>
<rect x="619.12" y="388.55" width="31.5" height="7.5" rx="2.5" fill="#191919" opacity="0.85" transform="rotate(-4 634.87 390.5)"/>
<rect x="655.33" y="378.55" width="32.5" height="16.5" rx="2.5" fill="#737373" opacity="0.85" transform="rotate(-2 671.58 386.8)"/>
<rect x="655.58" y="381.6" width="32" height="12" rx="2.5" fill="#414141" opacity="0.85" transform="rotate(-2 671.58 386.8)"/>
<rect x="655.83" y="384.85" width="31.5" height="7.5" rx="2.5" fill="#191919" opacity="0.85" transform="rotate(-2 671.58 386.8)"/>
<rect x="692.14" y="375.25" width="32.5" height="16.5" rx="2.5" fill="#737373" opacity="0.85" transform="rotate(-2 708.39 383.5)"/>
<rect x="692.39" y="378.3" width="32" height="12" rx="2.5" fill="#414141" opacity="0.85" transform="rotate(-2 708.39 383.5)"/>
<rect x="692.64" y="381.55" width="31.5" height="7.5" rx="2.5" fill="#191919" opacity="0.85" transform="rotate(-2 708.39 383.5)"/>
<rect x="729.06" y="372.95" width="32.5" height="16.5" rx="2.5" fill="#737373" opacity="0.85" transform="rotate(-6 745.31 381.2)"/>
<rect x="729.31" y="376" width="32" height="12" rx="2.5" fill="#414141" opacity="0.85" transform="rotate(-6 745.31 381.2)"/>
<rect x="729.56" y="379.25" width="31.5" height="7.5" rx="2.5" fill="#191919" opacity="0.85" transform="rotate(-6 745.31 381.2)"/>
<rect x="766.57" y="366.25" width="32.5" height="16.5" rx="2.5" fill="#737373" opacity="0.85" transform="rotate(-3 782.82 374.5)"/>
<rect x="766.82" y="369.3" width="32" height="12" rx="2.5" fill="#414141" opacity="0.85" transform="rotate(-3 782.82 374.5)"/>
<rect x="767.07" y="372.55" width="31.5" height="7.5" rx="2.5" fill="#191919" opacity="0.85" transform="rotate(-3 782.82 374.5)"/>
<rect x="804.09" y="364.05" width="32.5" height="16.5" rx="2.5" fill="#737373" opacity="0.85" transform="rotate(-1 820.34 372.3)"/>
<rect x="804.34" y="367.1" width="32" height="12" rx="2.5" fill="#414141" opacity="0.85" transform="rotate(-1 820.34 372.3)"/>
<rect x="804.59" y="370.35" width="31.5" height="7.5" rx="2.5" fill="#191919" opacity="0.85" transform="rotate(-1 820.34 372.3)"/>
<rect x="842.31" y="362.55" width="32.5" height="16.5" rx="2.5" fill="#737373" opacity="0.85" transform="rotate(-1 858.56 370.8)"/>
<rect x="842.56" y="365.6" width="32" height="12" rx="2.5" fill="#414141" opacity="0.85" transform="rotate(-1 858.56 370.8)"/>
<rect x="842.81" y="368.85" width="31.5" height="7.5" rx="2.5" fill="#191919" opacity="0.85" transform="rotate(-1 858.56 370.8)"/>
<rect x="880.33" y="361.75" width="32.5" height="16.5" rx="2.5" fill="#737373" opacity="0.85" transform="rotate(0 896.58 370)"/>
<rect x="880.58" y="364.8" width="32" height="12" rx="2.5" fill="#414141" opacity="0.85" transform="rotate(0 896.58 370)"/>
<rect x="880.83" y="368.05" width="31.5" height="7.5" rx="2.5" fill="#191919" opacity="0.85" transform="rotate(0 896.58 370)"/>
<rect x="917.94" y="360.75" width="32.5" height="16.5" rx="2.5" fill="#737373" opacity="0.85" transform="rotate(0 934.19 369)"/>
<rect x="918.19" y="363.8" width="32" height="12" rx="2.5" fill="#414141" opacity="0.85" transform="rotate(0 934.19 369)"/>
<rect x="918.44" y="367.05" width="31.5" height="7.5" rx="2.5" fill="#191919" opacity="0.85" transform="rotate(0 934.19 369)"/>
<rect x="955.26" y="360.25" width="32.5" height="16.5" rx="2.5" fill="#737373" opacity="0.85" transform="rotate(1 971.51 368.5)"/>
<rect x="955.51" y="363.3" width="32" height="12" rx="2.5" fill="#414141" opacity="0.85" transform="rotate(1 971.51 368.5)"/>
<rect x="955.76" y="366.55" width="31.5" height="7.5" rx="2.5" fill="#191919" opacity="0.85" transform="rotate(1 971.51 368.5)"/>
<rect x="992.97" y="360.25" width="32.5" height="16.5" rx="2.5" fill="#737373" opacity="0.85" transform="rotate(0 1009.22 368.5)"/>
<rect x="993.22" y="363.3" width="32" height="12" rx="2.5" fill="#414141" opacity="0.85" transform="rotate(0 1009.22 368.5)"/>
<rect x="993.47" y="366.55" width="31.5" height="7.5" rx="2.5" fill="#191919" opacity="0.85" transform="rotate(0 1009.22 368.5)"/>
<rect x="1030.69" y="359.75" width="32.5" height="16.5" rx="2.5" fill="#737373" opacity="0.85" transform="rotate(0 1046.94 368)"/>
<rect x="1030.94" y="362.8" width="32" height="12" rx="2.5" fill="#414141" opacity="0.85" transform="rotate(0 1046.94 368)"/>
<rect x="1031.19" y="366.05" width="31.5" height="7.5" rx="2.5" fill="#191919" opacity="0.85" transform="rotate(0 1046.94 368)"/>
<rect x="1068.51" y="361.25" width="32.5" height="16.5" rx="2.5" fill="#737373" opacity="0.85" transform="rotate(3 1084.76 369.5)"/>
<rect x="1068.76" y="364.3" width="32" height="12" rx="2.5" fill="#414141" opacity="0.85" transform="rotate(3 1084.76 369.5)"/>
<rect x="1069.01" y="367.55" width="31.5" height="7.5" rx="2.5" fill="#191919" opacity="0.85" transform="rotate(3 1084.76 369.5)"/>
<rect x="1105.72" y="363.25" width="32.5" height="16.5" rx="2.5" fill="#737373" opacity="0.85" transform="rotate(2 1121.97 371.5)"/>
<rect x="1105.97" y="366.3" width="32" height="12" rx="2.5" fill="#414141" opacity="0.85" transform="rotate(2 1121.97 371.5)"/>
<rect x="1106.22" y="369.55" width="31.5" height="7.5" rx="2.5" fill="#191919" opacity="0.85" transform="rotate(2 1121.97 371.5)"/>
<rect x="1143.44" y="366.25" width="32.5" height="16.5" rx="2.5" fill="#737373" opacity="0.85" transform="rotate(3 1159.69 374.5)"/>
<rect x="1143.69" y="369.3" width="32" height="12" rx="2.5" fill="#414141" opacity="0.85" transform="rotate(3 1159.69 374.5)"/>
<rect x="1143.94" y="372.55" width="31.5" height="7.5" rx="2.5" fill="#191919" opacity="0.85" transform="rotate(3 1159.69 374.5)"/>
<rect x="1181.66" y="367.25" width="32.5" height="16.5" rx="2.5" fill="#737373" opacity="0.85" transform="rotate(1 1197.91 375.5)"/>
<rect x="1181.91" y="370.3" width="32" height="12" rx="2.5" fill="#414141" opacity="0.85" transform="rotate(1 1197.91 375.5)"/>
<rect x="1182.16" y="373.55" width="31.5" height="7.5" rx="2.5" fill="#191919" opacity="0.85" transform="rotate(1 1197.91 375.5)"/>
<rect x="1218.17" y="366.25" width="32.5" height="16.5" rx="2.5" fill="#737373" opacity="0.85" transform="rotate(0 1234.42 374.5)"/>
<rect x="1218.42" y="369.3" width="32" height="12" rx="2.5" fill="#414141" opacity="0.85" transform="rotate(0 1234.42 374.5)"/>
<rect x="1218.67" y="372.55" width="31.5" height="7.5" rx="2.5" fill="#191919" opacity="0.85" transform="rotate(0 1234.42 374.5)"/>
</g></g>
<rect x="582.9" y="351" width="667.5" height="66.5" fill="none" stroke="#000" stroke-width="3.6"/>
<text x="5" y="495.9" font-size="43">b</text>
<text x="293" y="500" font-size="29.5" textLength="111" lengthAdjust="spacing">C57BL/6</text>
<rect x="157.6" y="566.3" width="6.1" height="272.6" fill="#000"/>
<rect x="144.4" y="833.2" width="426.6" height="5.7" fill="#000"/>
<rect x="144.4" y="566.35" width="14" height="5.7" fill="#000"/>
<text x="138.6" y="578.4" font-size="25.8" text-anchor="end">1200</text>
<rect x="144.4" y="655.45" width="14" height="5.7" fill="#000"/>
<text x="138.6" y="667.5" font-size="25.8" text-anchor="end">800</text>
<rect x="144.4" y="744.15" width="14" height="5.7" fill="#000"/>
<text x="138.6" y="756.2" font-size="25.8" text-anchor="end">400</text>
<rect x="144.4" y="833.2" width="14" height="5.7" fill="#000"/>
<text x="138.6" y="845.25" font-size="25.8" text-anchor="end">0</text>
<rect x="183.05" y="838" width="5.7" height="14.5" fill="#000"/>
<rect x="222.58" y="838" width="5.7" height="14.5" fill="#000"/>
<rect x="262.11" y="838" width="5.7" height="14.5" fill="#000"/>
<rect x="301.64" y="838" width="5.7" height="14.5" fill="#000"/>
<rect x="341.17" y="838" width="5.7" height="14.5" fill="#000"/>
<rect x="380.7" y="838" width="5.7" height="14.5" fill="#000"/>
<rect x="420.23" y="838" width="5.7" height="14.5" fill="#000"/>
<rect x="459.76" y="838" width="5.7" height="14.5" fill="#000"/>
<rect x="499.29" y="838" width="5.7" height="14.5" fill="#000"/>
<rect x="538.82" y="838" width="5.7" height="14.5" fill="#000"/>
<text transform="translate(193.1 878.4) rotate(-45)" font-size="26" text-anchor="end">6</text>
<text transform="translate(232.63 878.4) rotate(-45)" font-size="26" text-anchor="end">8</text>
<text transform="translate(272.16 878.4) rotate(-45)" font-size="26" text-anchor="end">11</text>
<text transform="translate(311.69 878.4) rotate(-45)" font-size="26" text-anchor="end">13</text>
<text transform="translate(351.22 878.4) rotate(-45)" font-size="26" text-anchor="end">15</text>
<text transform="translate(390.75 878.4) rotate(-45)" font-size="26" text-anchor="end">18</text>
<text transform="translate(430.28 878.4) rotate(-45)" font-size="26" text-anchor="end">20</text>
<text transform="translate(469.81 878.4) rotate(-45)" font-size="26" text-anchor="end">22</text>
<text transform="translate(509.34 878.4) rotate(-45)" font-size="26" text-anchor="end">24</text>
<text transform="translate(548.87 878.4) rotate(-45)" font-size="26" text-anchor="end">26</text>
<text transform="translate(55 840.4) rotate(-90)" font-size="29" letter-spacing="-0.38">Tumor volume (mm<tspan dy="-13.05" font-size="22.62">3)</tspan></text>
<text x="237.5" y="939.6" font-size="29.3" textLength="251.5" lengthAdjust="spacing">Days after injection</text>
<text x="211.2" y="749.9" font-size="25" letter-spacing="2.6">n=9</text>
<rect x="192.8" y="539.45" width="58.4" height="6.1" fill="#0000ff"/>
<circle cx="221.8" cy="542.5" r="5.4" fill="#0000ff"/>
<text x="284.3" y="551.8" font-size="25.5" textLength="172.6" lengthAdjust="spacing">YUMM2.1 EV</text>
<rect x="192.8" y="577.35" width="58.4" height="6.1" fill="#ff0000"/>
<polygon points="221.8,573.65 227.74,584.45 215.86,584.45" fill="#ff0000"/>
<text x="284.3" y="590.1" font-size="25.5" textLength="177.6" lengthAdjust="spacing">YUMM2.1 WT</text>
<rect x="192.8" y="615.55" width="58.4" height="6.1" fill="#dc8cff"/>
<polygon points="221.8,625.35 227.74,614.55 215.86,614.55" fill="#dc8cff"/>
<text x="284.3" y="627.8" font-size="25.5" textLength="205" lengthAdjust="spacing">YUMM2.1 dHLH</text>
<line x1="264.96" y1="815" x2="264.96" y2="825" stroke="#dc8cff" stroke-width="2.4"/>
<line x1="259.71" y1="815" x2="270.21" y2="815" stroke="#dc8cff" stroke-width="2.4"/>
<line x1="259.71" y1="825" x2="270.21" y2="825" stroke="#dc8cff" stroke-width="2.4"/>
<line x1="304.49" y1="802" x2="304.49" y2="816" stroke="#dc8cff" stroke-width="2.4"/>
<line x1="299.24" y1="802" x2="309.74" y2="802" stroke="#dc8cff" stroke-width="2.4"/>
<line x1="299.24" y1="816" x2="309.74" y2="816" stroke="#dc8cff" stroke-width="2.4"/>
<line x1="344.02" y1="788.5" x2="344.02" y2="805" stroke="#dc8cff" stroke-width="2.4"/>
<line x1="338.77" y1="788.5" x2="349.27" y2="788.5" stroke="#dc8cff" stroke-width="2.4"/>
<line x1="338.77" y1="805" x2="349.27" y2="805" stroke="#dc8cff" stroke-width="2.4"/>
<line x1="383.55" y1="776.3" x2="383.55" y2="795.6" stroke="#dc8cff" stroke-width="2.4"/>
<line x1="378.3" y1="776.3" x2="388.8" y2="776.3" stroke="#dc8cff" stroke-width="2.4"/>
<line x1="378.3" y1="795.6" x2="388.8" y2="795.6" stroke="#dc8cff" stroke-width="2.4"/>
<line x1="423.08" y1="757" x2="423.08" y2="781.3" stroke="#dc8cff" stroke-width="2.4"/>
<line x1="417.83" y1="757" x2="428.33" y2="757" stroke="#dc8cff" stroke-width="2.4"/>
<line x1="417.83" y1="781.3" x2="428.33" y2="781.3" stroke="#dc8cff" stroke-width="2.4"/>
<line x1="462.61" y1="729.1" x2="462.61" y2="763.6" stroke="#dc8cff" stroke-width="2.4"/>
<line x1="457.36" y1="729.1" x2="467.86" y2="729.1" stroke="#dc8cff" stroke-width="2.4"/>
<line x1="457.36" y1="763.6" x2="467.86" y2="763.6" stroke="#dc8cff" stroke-width="2.4"/>
<line x1="502.14" y1="700.6" x2="502.14" y2="744.7" stroke="#dc8cff" stroke-width="2.4"/>
<line x1="496.89" y1="700.6" x2="507.39" y2="700.6" stroke="#dc8cff" stroke-width="2.4"/>
<line x1="496.89" y1="744.7" x2="507.39" y2="744.7" stroke="#dc8cff" stroke-width="2.4"/>
<line x1="541.67" y1="670.5" x2="541.67" y2="717.3" stroke="#dc8cff" stroke-width="2.4"/>
<line x1="536.42" y1="670.5" x2="546.92" y2="670.5" stroke="#dc8cff" stroke-width="2.4"/>
<line x1="536.42" y1="717.3" x2="546.92" y2="717.3" stroke="#dc8cff" stroke-width="2.4"/>
<polyline points="185.9,829.2 225.43,826 264.96,820 304.49,808.8 344.02,797 383.55,785.4 423.08,768.1 462.61,745.7 502.14,721.3 541.67,693.9" fill="none" stroke="#dc8cff" stroke-width="6" stroke-linejoin="round" stroke-linecap="butt"/>
<polygon points="185.9,836.08 191.95,825.08 179.85,825.08" fill="#dc8cff"/>
<polygon points="225.43,832.88 231.48,821.88 219.38,821.88" fill="#dc8cff"/>
<polygon points="264.96,826.88 271.01,815.88 258.91,815.88" fill="#dc8cff"/>
<polygon points="304.49,815.67 310.54,804.67 298.44,804.67" fill="#dc8cff"/>
<polygon points="344.02,803.88 350.07,792.88 337.97,792.88" fill="#dc8cff"/>
<polygon points="383.55,792.27 389.6,781.27 377.5,781.27" fill="#dc8cff"/>
<polygon points="423.08,774.98 429.13,763.98 417.03,763.98" fill="#dc8cff"/>
<polygon points="462.61,752.58 468.66,741.58 456.56,741.58" fill="#dc8cff"/>
<polygon points="502.14,728.17 508.19,717.17 496.09,717.17" fill="#dc8cff"/>
<polygon points="541.67,700.77 547.72,689.77 535.62,689.77" fill="#dc8cff"/>
<line x1="225.43" y1="821" x2="225.43" y2="829" stroke="#ff0000" stroke-width="2.4"/>
<line x1="220.18" y1="821" x2="230.68" y2="821" stroke="#ff0000" stroke-width="2.4"/>
<line x1="220.18" y1="829" x2="230.68" y2="829" stroke="#ff0000" stroke-width="2.4"/>
<line x1="264.96" y1="806.5" x2="264.96" y2="816.5" stroke="#ff0000" stroke-width="2.4"/>
<line x1="259.71" y1="806.5" x2="270.21" y2="806.5" stroke="#ff0000" stroke-width="2.4"/>
<line x1="259.71" y1="816.5" x2="270.21" y2="816.5" stroke="#ff0000" stroke-width="2.4"/>
<line x1="304.49" y1="792" x2="304.49" y2="806" stroke="#ff0000" stroke-width="2.4"/>
<line x1="299.24" y1="792" x2="309.74" y2="792" stroke="#ff0000" stroke-width="2.4"/>
<line x1="299.24" y1="806" x2="309.74" y2="806" stroke="#ff0000" stroke-width="2.4"/>
<line x1="344.02" y1="771.2" x2="344.02" y2="789.5" stroke="#ff0000" stroke-width="2.4"/>
<line x1="338.77" y1="771.2" x2="349.27" y2="771.2" stroke="#ff0000" stroke-width="2.4"/>
<line x1="338.77" y1="789.5" x2="349.27" y2="789.5" stroke="#ff0000" stroke-width="2.4"/>
<line x1="383.55" y1="747.8" x2="383.55" y2="771.2" stroke="#ff0000" stroke-width="2.4"/>
<line x1="378.3" y1="747.8" x2="388.8" y2="747.8" stroke="#ff0000" stroke-width="2.4"/>
<line x1="378.3" y1="771.2" x2="388.8" y2="771.2" stroke="#ff0000" stroke-width="2.4"/>
<line x1="423.08" y1="717.7" x2="423.08" y2="748.2" stroke="#ff0000" stroke-width="2.4"/>
<line x1="417.83" y1="717.7" x2="428.33" y2="717.7" stroke="#ff0000" stroke-width="2.4"/>
<line x1="417.83" y1="748.2" x2="428.33" y2="748.2" stroke="#ff0000" stroke-width="2.4"/>
<line x1="462.61" y1="677" x2="462.61" y2="721.7" stroke="#ff0000" stroke-width="2.4"/>
<line x1="457.36" y1="677" x2="467.86" y2="677" stroke="#ff0000" stroke-width="2.4"/>
<line x1="457.36" y1="721.7" x2="467.86" y2="721.7" stroke="#ff0000" stroke-width="2.4"/>
<line x1="502.14" y1="639.4" x2="502.14" y2="688.4" stroke="#ff0000" stroke-width="2.4"/>
<line x1="496.89" y1="639.4" x2="507.39" y2="639.4" stroke="#ff0000" stroke-width="2.4"/>
<line x1="496.89" y1="688.4" x2="507.39" y2="688.4" stroke="#ff0000" stroke-width="2.4"/>
<line x1="541.67" y1="573.3" x2="541.67" y2="638" stroke="#ff0000" stroke-width="2.4"/>
<line x1="536.42" y1="573.3" x2="546.92" y2="573.3" stroke="#ff0000" stroke-width="2.4"/>
<line x1="536.42" y1="638" x2="546.92" y2="638" stroke="#ff0000" stroke-width="2.4"/>
<polyline points="185.9,828.5 225.43,825 264.96,811.5 304.49,799 344.02,780 383.55,760 423.08,733.5 462.61,700 502.14,664.4 541.67,605.4" fill="none" stroke="#ff0000" stroke-width="6" stroke-linejoin="round" stroke-linecap="butt"/>
<polygon points="185.9,821.62 191.95,832.62 179.85,832.62" fill="#ff0000"/>
<polygon points="225.43,818.12 231.48,829.12 219.38,829.12" fill="#ff0000"/>
<polygon points="264.96,804.62 271.01,815.62 258.91,815.62" fill="#ff0000"/>
<polygon points="304.49,792.12 310.54,803.12 298.44,803.12" fill="#ff0000"/>
<polygon points="344.02,773.12 350.07,784.12 337.97,784.12" fill="#ff0000"/>
<polygon points="383.55,753.12 389.6,764.12 377.5,764.12" fill="#ff0000"/>
<polygon points="423.08,726.62 429.13,737.62 417.03,737.62" fill="#ff0000"/>
<polygon points="462.61,693.12 468.66,704.12 456.56,704.12" fill="#ff0000"/>
<polygon points="502.14,657.52 508.19,668.52 496.09,668.52" fill="#ff0000"/>
<polygon points="541.67,598.52 547.72,609.52 535.62,609.52" fill="#ff0000"/>
<line x1="344.02" y1="813.5" x2="344.02" y2="819" stroke="#0000ff" stroke-width="2.4"/>
<line x1="338.77" y1="813.5" x2="349.27" y2="813.5" stroke="#0000ff" stroke-width="2.4"/>
<line x1="338.77" y1="819" x2="349.27" y2="819" stroke="#0000ff" stroke-width="2.4"/>
<line x1="383.55" y1="805.8" x2="383.55" y2="811.8" stroke="#0000ff" stroke-width="2.4"/>
<line x1="378.3" y1="805.8" x2="388.8" y2="805.8" stroke="#0000ff" stroke-width="2.4"/>
<line x1="378.3" y1="811.8" x2="388.8" y2="811.8" stroke="#0000ff" stroke-width="2.4"/>
<line x1="423.08" y1="795.6" x2="423.08" y2="801.6" stroke="#0000ff" stroke-width="2.4"/>
<line x1="417.83" y1="795.6" x2="428.33" y2="795.6" stroke="#0000ff" stroke-width="2.4"/>
<line x1="417.83" y1="801.6" x2="428.33" y2="801.6" stroke="#0000ff" stroke-width="2.4"/>
<line x1="462.61" y1="777.3" x2="462.61" y2="788.9" stroke="#0000ff" stroke-width="2.4"/>
<line x1="457.36" y1="777.3" x2="467.86" y2="777.3" stroke="#0000ff" stroke-width="2.4"/>
<line x1="457.36" y1="788.9" x2="467.86" y2="788.9" stroke="#0000ff" stroke-width="2.4"/>
<line x1="502.14" y1="753.9" x2="502.14" y2="770.2" stroke="#0000ff" stroke-width="2.4"/>
<line x1="496.89" y1="753.9" x2="507.39" y2="753.9" stroke="#0000ff" stroke-width="2.4"/>
<line x1="496.89" y1="770.2" x2="507.39" y2="770.2" stroke="#0000ff" stroke-width="2.4"/>
<line x1="541.67" y1="710.2" x2="541.67" y2="733.1" stroke="#0000ff" stroke-width="2.4"/>
<line x1="536.42" y1="710.2" x2="546.92" y2="710.2" stroke="#0000ff" stroke-width="2.4"/>
<line x1="536.42" y1="733.1" x2="546.92" y2="733.1" stroke="#0000ff" stroke-width="2.4"/>
<polyline points="185.9,827.5 225.43,827.1 264.96,824.1 304.49,821 344.02,816.3 383.55,808.8 423.08,798.6 462.61,782.4 502.14,762 541.67,721.3" fill="none" stroke="#0000ff" stroke-width="6" stroke-linejoin="round" stroke-linecap="butt"/>
<circle cx="185.9" cy="827.5" r="5.5" fill="#0000ff"/>
<circle cx="225.43" cy="827.1" r="5.5" fill="#0000ff"/>
<circle cx="264.96" cy="824.1" r="5.5" fill="#0000ff"/>
<circle cx="304.49" cy="821" r="5.5" fill="#0000ff"/>
<circle cx="344.02" cy="816.3" r="5.5" fill="#0000ff"/>
<circle cx="383.55" cy="808.8" r="5.5" fill="#0000ff"/>
<circle cx="423.08" cy="798.6" r="5.5" fill="#0000ff"/>
<circle cx="462.61" cy="782.4" r="5.5" fill="#0000ff"/>
<circle cx="502.14" cy="762" r="5.5" fill="#0000ff"/>
<circle cx="541.67" cy="721.3" r="5.5" fill="#0000ff"/>
<rect x="555.3" y="599.7" width="5.5" height="83" fill="#000"/>
<rect x="555.3" y="692.9" width="5.5" height="31.5" fill="#000"/>
<rect x="563.3" y="599.7" width="5.7" height="124.7" fill="#000"/>
<text x="571" y="657.8" font-size="30" letter-spacing="8.1" font-weight="bold">****</text>
<text x="579.5" y="678.8" font-size="30" letter-spacing="8.1" font-weight="bold">****</text>
<text x="574.5" y="716.9" font-size="21" textLength="83.5" lengthAdjust="spacing">p=0.0062</text>
<text x="675.2" y="489.4" font-size="43.5">c</text>
<text x="1001.5" y="500.3" font-size="29.5" textLength="58" lengthAdjust="spacing">NSG</text>
<rect x="834.1" y="566.9" width="6" height="272.7" fill="#000"/>
<rect x="820.7" y="833.9" width="426.4" height="5.8" fill="#000"/>
<rect x="820.7" y="566.95" width="14" height="5.7" fill="#000"/>
<text x="814.3" y="579" font-size="25.8" text-anchor="end">1200</text>
<rect x="820.7" y="655.95" width="14" height="5.7" fill="#000"/>
<text x="814.3" y="668" font-size="25.8" text-anchor="end">800</text>
<rect x="820.7" y="745.15" width="14" height="5.7" fill="#000"/>
<text x="814.3" y="757.2" font-size="25.8" text-anchor="end">400</text>
<rect x="820.7" y="833.95" width="14" height="5.7" fill="#000"/>
<text x="814.3" y="846" font-size="25.8" text-anchor="end">0</text>
<rect x="866.1" y="839" width="5.8" height="14.5" fill="#000"/>
<rect x="915.03" y="839" width="5.8" height="14.5" fill="#000"/>
<rect x="963.96" y="839" width="5.8" height="14.5" fill="#000"/>
<rect x="1012.89" y="839" width="5.8" height="14.5" fill="#000"/>
<rect x="1061.82" y="839" width="5.8" height="14.5" fill="#000"/>
<rect x="1110.75" y="839" width="5.8" height="14.5" fill="#000"/>
<rect x="1159.68" y="839" width="5.8" height="14.5" fill="#000"/>
<rect x="1208.61" y="839" width="5.8" height="14.5" fill="#000"/>
<text transform="translate(876.2 879) rotate(-45)" font-size="26" text-anchor="end">6</text>
<text transform="translate(925.13 879) rotate(-45)" font-size="26" text-anchor="end">9</text>
<text transform="translate(974.06 879) rotate(-45)" font-size="26" text-anchor="end">12</text>
<text transform="translate(1022.99 879) rotate(-45)" font-size="26" text-anchor="end">14</text>
<text transform="translate(1071.92 879) rotate(-45)" font-size="26" text-anchor="end">17</text>
<text transform="translate(1120.85 879) rotate(-45)" font-size="26" text-anchor="end">19</text>
<text transform="translate(1169.78 879) rotate(-45)" font-size="26" text-anchor="end">21</text>
<text transform="translate(1218.71 879) rotate(-45)" font-size="26" text-anchor="end">24</text>
<text transform="translate(733.6 841.3) rotate(-90)" font-size="29" letter-spacing="-0.38">Tumor volume (mm<tspan dy="-13.05" font-size="22.62">3)</tspan></text>
<text x="914.8" y="934.9" font-size="29.3" textLength="251.5" lengthAdjust="spacing">Days after injection</text>
<text x="919" y="760.4" font-size="25" letter-spacing="2.6">n=8</text>
<rect x="858.3" y="574.25" width="58" height="6.1" fill="#0000ff"/>
<circle cx="887.3" cy="577.3" r="5.4" fill="#0000ff"/>
<text x="949" y="586.7" font-size="25.5" textLength="172.8" lengthAdjust="spacing">YUMM2.1 EV</text>
<rect x="858.3" y="612.25" width="58" height="6.1" fill="#ff0000"/>
<polygon points="887.3,608.55 893.24,619.35 881.36,619.35" fill="#ff0000"/>
<text x="949" y="624.7" font-size="25.5" textLength="178.9" lengthAdjust="spacing">YUMM2.1 WT</text>
<rect x="858.3" y="647.85" width="58" height="6.1" fill="#dc8cff"/>
<polygon points="887.3,657.65 893.24,646.85 881.36,646.85" fill="#dc8cff"/>
<text x="949" y="659.9" font-size="25.5" textLength="205.8" lengthAdjust="spacing">YUMM2.1 dHLH</text>
<line x1="917.93" y1="815.5" x2="917.93" y2="825" stroke="#dc8cff" stroke-width="2.4"/>
<line x1="912.68" y1="815.5" x2="923.18" y2="815.5" stroke="#dc8cff" stroke-width="2.4"/>
<line x1="912.68" y1="825" x2="923.18" y2="825" stroke="#dc8cff" stroke-width="2.4"/>
<line x1="966.86" y1="807.5" x2="966.86" y2="816" stroke="#dc8cff" stroke-width="2.4"/>
<line x1="961.61" y1="807.5" x2="972.11" y2="807.5" stroke="#dc8cff" stroke-width="2.4"/>
<line x1="961.61" y1="816" x2="972.11" y2="816" stroke="#dc8cff" stroke-width="2.4"/>
<line x1="1113.65" y1="745.5" x2="1113.65" y2="753" stroke="#dc8cff" stroke-width="2.4"/>
<line x1="1108.4" y1="745.5" x2="1118.9" y2="745.5" stroke="#dc8cff" stroke-width="2.4"/>
<line x1="1108.4" y1="753" x2="1118.9" y2="753" stroke="#dc8cff" stroke-width="2.4"/>
<line x1="1211.51" y1="624.7" x2="1211.51" y2="643" stroke="#dc8cff" stroke-width="2.4"/>
<line x1="1206.26" y1="624.7" x2="1216.76" y2="624.7" stroke="#dc8cff" stroke-width="2.4"/>
<line x1="1206.26" y1="643" x2="1216.76" y2="643" stroke="#dc8cff" stroke-width="2.4"/>
<polyline points="869,832.5 917.93,820.5 966.86,811.8 1015.79,801.7 1064.72,769.1 1113.65,749.8 1162.58,688.8 1211.51,633.9" fill="none" stroke="#dc8cff" stroke-width="6" stroke-linejoin="round" stroke-linecap="butt"/>
<polygon points="869,839.38 875.05,828.38 862.95,828.38" fill="#dc8cff"/>
<polygon points="917.93,827.38 923.98,816.38 911.88,816.38" fill="#dc8cff"/>
<polygon points="966.86,818.67 972.91,807.67 960.81,807.67" fill="#dc8cff"/>
<polygon points="1015.79,808.58 1021.84,797.58 1009.74,797.58" fill="#dc8cff"/>
<polygon points="1064.72,775.98 1070.77,764.98 1058.67,764.98" fill="#dc8cff"/>
<polygon points="1113.65,756.67 1119.7,745.67 1107.6,745.67" fill="#dc8cff"/>
<polygon points="1162.58,695.67 1168.63,684.67 1156.53,684.67" fill="#dc8cff"/>
<polygon points="1211.51,640.77 1217.56,629.77 1205.46,629.77" fill="#dc8cff"/>
<line x1="917.93" y1="823" x2="917.93" y2="830" stroke="#ff0000" stroke-width="2.4"/>
<line x1="912.68" y1="823" x2="923.18" y2="823" stroke="#ff0000" stroke-width="2.4"/>
<line x1="912.68" y1="830" x2="923.18" y2="830" stroke="#ff0000" stroke-width="2.4"/>
<line x1="966.86" y1="812" x2="966.86" y2="820" stroke="#ff0000" stroke-width="2.4"/>
<line x1="961.61" y1="812" x2="972.11" y2="812" stroke="#ff0000" stroke-width="2.4"/>
<line x1="961.61" y1="820" x2="972.11" y2="820" stroke="#ff0000" stroke-width="2.4"/>
<line x1="1015.79" y1="805" x2="1015.79" y2="812.5" stroke="#ff0000" stroke-width="2.4"/>
<line x1="1010.54" y1="805" x2="1021.04" y2="805" stroke="#ff0000" stroke-width="2.4"/>
<line x1="1010.54" y1="812.5" x2="1021.04" y2="812.5" stroke="#ff0000" stroke-width="2.4"/>
<line x1="1064.72" y1="767.5" x2="1064.72" y2="777" stroke="#ff0000" stroke-width="2.4"/>
<line x1="1059.47" y1="767.5" x2="1069.97" y2="767.5" stroke="#ff0000" stroke-width="2.4"/>
<line x1="1059.47" y1="777" x2="1069.97" y2="777" stroke="#ff0000" stroke-width="2.4"/>
<line x1="1113.65" y1="721.5" x2="1113.65" y2="735.6" stroke="#ff0000" stroke-width="2.4"/>
<line x1="1108.4" y1="721.5" x2="1118.9" y2="721.5" stroke="#ff0000" stroke-width="2.4"/>
<line x1="1108.4" y1="735.6" x2="1118.9" y2="735.6" stroke="#ff0000" stroke-width="2.4"/>
<line x1="1162.58" y1="681" x2="1162.58" y2="702" stroke="#ff0000" stroke-width="2.4"/>
<line x1="1157.33" y1="681" x2="1167.83" y2="681" stroke="#ff0000" stroke-width="2.4"/>
<line x1="1157.33" y1="702" x2="1167.83" y2="702" stroke="#ff0000" stroke-width="2.4"/>
<line x1="1211.51" y1="592.6" x2="1211.51" y2="630.8" stroke="#ff0000" stroke-width="2.4"/>
<line x1="1206.26" y1="592.6" x2="1216.76" y2="592.6" stroke="#ff0000" stroke-width="2.4"/>
<line x1="1206.26" y1="630.8" x2="1216.76" y2="630.8" stroke="#ff0000" stroke-width="2.4"/>
<polyline points="869,834.5 917.93,826.5 966.86,815.9 1015.79,808.8 1064.72,772.2 1113.65,729.5 1162.58,690.8 1211.51,611.5" fill="none" stroke="#ff0000" stroke-width="6" stroke-linejoin="round" stroke-linecap="butt"/>
<polygon points="869,827.62 875.05,838.62 862.95,838.62" fill="#ff0000"/>
<polygon points="917.93,819.62 923.98,830.62 911.88,830.62" fill="#ff0000"/>
<polygon points="966.86,809.02 972.91,820.02 960.81,820.02" fill="#ff0000"/>
<polygon points="1015.79,801.92 1021.84,812.92 1009.74,812.92" fill="#ff0000"/>
<polygon points="1064.72,765.33 1070.77,776.33 1058.67,776.33" fill="#ff0000"/>
<polygon points="1113.65,722.62 1119.7,733.62 1107.6,733.62" fill="#ff0000"/>
<polygon points="1162.58,683.92 1168.63,694.92 1156.53,694.92" fill="#ff0000"/>
<polygon points="1211.51,604.62 1217.56,615.62 1205.46,615.62" fill="#ff0000"/>
<line x1="1064.72" y1="757.5" x2="1064.72" y2="772.5" stroke="#0000ff" stroke-width="2.4"/>
<line x1="1059.47" y1="757.5" x2="1069.97" y2="757.5" stroke="#0000ff" stroke-width="2.4"/>
<line x1="1059.47" y1="772.5" x2="1069.97" y2="772.5" stroke="#0000ff" stroke-width="2.4"/>
<line x1="1113.65" y1="717.3" x2="1113.65" y2="737.6" stroke="#0000ff" stroke-width="2.4"/>
<line x1="1108.4" y1="717.3" x2="1118.9" y2="717.3" stroke="#0000ff" stroke-width="2.4"/>
<line x1="1108.4" y1="737.6" x2="1118.9" y2="737.6" stroke="#0000ff" stroke-width="2.4"/>
<line x1="1162.58" y1="681" x2="1162.58" y2="693.5" stroke="#0000ff" stroke-width="2.4"/>
<line x1="1157.33" y1="681" x2="1167.83" y2="681" stroke="#0000ff" stroke-width="2.4"/>
<line x1="1157.33" y1="693.5" x2="1167.83" y2="693.5" stroke="#0000ff" stroke-width="2.4"/>
<line x1="1211.51" y1="618.6" x2="1211.51" y2="651.2" stroke="#0000ff" stroke-width="2.4"/>
<line x1="1206.26" y1="618.6" x2="1216.76" y2="618.6" stroke="#0000ff" stroke-width="2.4"/>
<line x1="1206.26" y1="651.2" x2="1216.76" y2="651.2" stroke="#0000ff" stroke-width="2.4"/>
<polyline points="869,833.2 917.93,823 966.86,813.3 1015.79,797.6 1064.72,765.1 1113.65,727.4 1162.58,687.2 1211.51,634.9" fill="none" stroke="#0000ff" stroke-width="6" stroke-linejoin="round" stroke-linecap="butt"/>
<circle cx="869" cy="833.2" r="5.5" fill="#0000ff"/>
<circle cx="917.93" cy="823" r="5.5" fill="#0000ff"/>
<circle cx="966.86" cy="813.3" r="5.5" fill="#0000ff"/>
<circle cx="1015.79" cy="797.6" r="5.5" fill="#0000ff"/>
<circle cx="1064.72" cy="765.1" r="5.5" fill="#0000ff"/>
<circle cx="1113.65" cy="727.4" r="5.5" fill="#0000ff"/>
<circle cx="1162.58" cy="687.2" r="5.5" fill="#0000ff"/>
<circle cx="1211.51" cy="634.9" r="5.5" fill="#0000ff"/>
<text x="1295" y="496.3" font-size="44">d</text>
<path d="M1455.38 833.1V786.97H1463.82V833.1" fill="none" stroke="#0000ff" stroke-width="5.55"/>
<path d="M1474.98 833.1V766.57H1483.42V833.1" fill="none" stroke="#f54040" stroke-width="5.55"/>
<path d="M1494.78 833.1V582.17H1503.22V833.1" fill="none" stroke="#dd88fa" stroke-width="5.55"/>
<path d="M1527.88 833.1V800.77H1536.32V833.1" fill="none" stroke="#0000ff" stroke-width="5.55"/>
<path d="M1547.48 833.1V774.27H1555.92V833.1" fill="none" stroke="#f54040" stroke-width="5.55"/>
<path d="M1567.28 833.1V558.07H1575.72V833.1" fill="none" stroke="#dd88fa" stroke-width="5.55"/>
<path d="M1600.38 833.1V804.67H1608.82V833.1" fill="none" stroke="#0000ff" stroke-width="5.55"/>
<path d="M1619.98 833.1V709.07H1628.42V833.1" fill="none" stroke="#f54040" stroke-width="5.55"/>
<path d="M1639.78 833.1V731.07H1648.22V833.1" fill="none" stroke="#dd88fa" stroke-width="5.55"/>
<path d="M1672.88 833.1V813.67H1681.32V833.1" fill="none" stroke="#0000ff" stroke-width="5.55"/>
<path d="M1692.48 833.1V758.27H1700.92V833.1" fill="none" stroke="#f54040" stroke-width="5.55"/>
<path d="M1712.28 833.1V657.67H1720.72V833.1" fill="none" stroke="#dd88fa" stroke-width="5.55"/>
<path d="M1745.38 833.1V819.77H1753.82V833.1" fill="none" stroke="#0000ff" stroke-width="5.55"/>
<path d="M1764.98 833.1V803.27H1773.42V833.1" fill="none" stroke="#f54040" stroke-width="5.55"/>
<path d="M1784.78 833.1V764.07H1793.22V833.1" fill="none" stroke="#dd88fa" stroke-width="5.55"/>
<rect x="1815.1" y="828.6" width="14" height="4.5" fill="#0000ff"/>
<rect x="1834.7" y="826.8" width="14" height="6.3" fill="#f54040"/>
<path d="M1857.28 833.1V810.27H1865.72V833.1" fill="none" stroke="#dd88fa" stroke-width="5.55"/>
<circle cx="1460.6" cy="778.7" r="5.15" fill="none" stroke="#000" stroke-width="3.1"/>
<circle cx="1458.3" cy="789.4" r="5.15" fill="none" stroke="#000" stroke-width="3.1"/>
<circle cx="1531.5" cy="787.3" r="5.15" fill="none" stroke="#000" stroke-width="3.1"/>
<circle cx="1531.5" cy="808" r="5.15" fill="none" stroke="#000" stroke-width="3.1"/>
<circle cx="1604.2" cy="794.9" r="5.15" fill="none" stroke="#000" stroke-width="3.1"/>
<circle cx="1604.2" cy="809.6" r="5.15" fill="none" stroke="#000" stroke-width="3.1"/>
<circle cx="1676.7" cy="803.7" r="5.15" fill="none" stroke="#000" stroke-width="3.1"/>
<circle cx="1676.7" cy="818.3" r="5.15" fill="none" stroke="#000" stroke-width="3.1"/>
<circle cx="1750.4" cy="815.2" r="5.15" fill="none" stroke="#000" stroke-width="3.1"/>
<circle cx="1748.6" cy="817.3" r="5.15" fill="none" stroke="#000" stroke-width="3.1"/>
<circle cx="1822" cy="828.4" r="5.15" fill="none" stroke="#000" stroke-width="3.1"/>
<circle cx="1822.6" cy="829.2" r="5.15" fill="none" stroke="#000" stroke-width="3.1"/>
<polygon points="1478.7,751.5 1484,761.5 1473.4,761.5" fill="none" stroke="#000" stroke-width="3" stroke-linejoin="miter"/>
<polygon points="1478.7,763.8 1484,773.8 1473.4,773.8" fill="none" stroke="#000" stroke-width="3" stroke-linejoin="miter"/>
<polygon points="1551.6,727.2 1556.9,737.2 1546.3,737.2" fill="none" stroke="#000" stroke-width="3" stroke-linejoin="miter"/>
<polygon points="1551.6,804.4 1556.9,814.4 1546.3,814.4" fill="none" stroke="#000" stroke-width="3" stroke-linejoin="miter"/>
<polygon points="1624.2,675.3 1629.5,685.3 1618.9,685.3" fill="none" stroke="#000" stroke-width="3" stroke-linejoin="miter"/>
<polygon points="1624.2,727.2 1629.5,737.2 1618.9,737.2" fill="none" stroke="#000" stroke-width="3" stroke-linejoin="miter"/>
<polygon points="1696.6,733.9 1701.9,743.9 1691.3,743.9" fill="none" stroke="#000" stroke-width="3" stroke-linejoin="miter"/>
<polygon points="1696.6,767.4 1701.9,777.4 1691.3,777.4" fill="none" stroke="#000" stroke-width="3" stroke-linejoin="miter"/>
<polygon points="1769,787.5 1774.3,797.5 1763.7,797.5" fill="none" stroke="#000" stroke-width="3" stroke-linejoin="miter"/>
<polygon points="1769,800.8 1774.3,810.8 1763.7,810.8" fill="none" stroke="#000" stroke-width="3" stroke-linejoin="miter"/>
<polygon points="1842.6,820.9 1847.9,830.9 1837.3,830.9" fill="none" stroke="#000" stroke-width="3" stroke-linejoin="miter"/>
<polygon points="1499,561.2 1503.9,566.1 1499,571 1494.1,566.1" fill="none" stroke="#000" stroke-width="3" stroke-linejoin="miter"/>
<polygon points="1499,587.3 1503.9,592.2 1499,597.1 1494.1,592.2" fill="none" stroke="#000" stroke-width="3" stroke-linejoin="miter"/>
<polygon points="1571.2,525.6 1576.1,530.5 1571.2,535.4 1566.3,530.5" fill="none" stroke="#000" stroke-width="3" stroke-linejoin="miter"/>
<polygon points="1571.2,575.2 1576.1,580.1 1571.2,585 1566.3,580.1" fill="none" stroke="#000" stroke-width="3" stroke-linejoin="miter"/>
<polygon points="1643.3,697.6 1648.2,702.5 1643.3,707.4 1638.4,702.5" fill="none" stroke="#000" stroke-width="3" stroke-linejoin="miter"/>
<polygon points="1643.3,749.6 1648.2,754.5 1643.3,759.4 1638.4,754.5" fill="none" stroke="#000" stroke-width="3" stroke-linejoin="miter"/>
<polygon points="1716.4,612 1721.3,616.9 1716.4,621.8 1711.5,616.9" fill="none" stroke="#000" stroke-width="3" stroke-linejoin="miter"/>
<polygon points="1716.4,687.3 1721.3,692.2 1716.4,697.1 1711.5,692.2" fill="none" stroke="#000" stroke-width="3" stroke-linejoin="miter"/>
<polygon points="1789.2,754.3 1794.1,759.2 1789.2,764.1 1784.3,759.2" fill="none" stroke="#000" stroke-width="3" stroke-linejoin="miter"/>
<polygon points="1788.4,755.1 1793.3,760 1788.4,764.9 1783.5,760" fill="none" stroke="#000" stroke-width="3" stroke-linejoin="miter"/>
<polygon points="1862.1,798.4 1867,803.3 1862.1,808.2 1857.2,803.3" fill="none" stroke="#000" stroke-width="3" stroke-linejoin="miter"/>
<polygon points="1859.5,805.7 1864.4,810.6 1859.5,815.5 1854.6,810.6" fill="none" stroke="#000" stroke-width="3" stroke-linejoin="miter"/>
<rect x="1443.3" y="488.1" width="5.8" height="347.8" fill="#000"/>
<rect x="1429.8" y="830.3" width="447.6" height="5.6" fill="#000"/>
<rect x="1429.8" y="488.1" width="14" height="5.8" fill="#000"/>
<text x="1423.8" y="500.2" font-size="25.8" text-anchor="end">1500</text>
<rect x="1429.8" y="602.13" width="14" height="5.8" fill="#000"/>
<text x="1423.8" y="614.23" font-size="25.8" text-anchor="end">1000</text>
<rect x="1429.8" y="716.17" width="14" height="5.8" fill="#000"/>
<text x="1423.8" y="728.27" font-size="25.8" text-anchor="end">500</text>
<rect x="1429.8" y="830.2" width="14" height="5.8" fill="#000"/>
<text x="1423.8" y="842.3" font-size="25.8" text-anchor="end">0</text>
<rect x="1476.15" y="835" width="5.7" height="14.6" fill="#000"/>
<text transform="translate(1484.8 878.8) rotate(-45)" font-size="30" text-anchor="end" letter-spacing="-0.5">VEGF</text>
<rect x="1548.65" y="835" width="5.7" height="14.6" fill="#000"/>
<text transform="translate(1557.3 878.8) rotate(-45)" font-size="30" text-anchor="end" letter-spacing="-0.5">GM-CSF</text>
<rect x="1621.15" y="835" width="5.7" height="14.6" fill="#000"/>
<text transform="translate(1629.8 878.8) rotate(-45)" font-size="30" text-anchor="end" letter-spacing="-0.5">IGFBP-6</text>
<rect x="1693.65" y="835" width="5.7" height="14.6" fill="#000"/>
<text transform="translate(1702.3 878.8) rotate(-45)" font-size="30" text-anchor="end" letter-spacing="-0.5">IL-23</text>
<rect x="1766.15" y="835" width="5.7" height="14.6" fill="#000"/>
<text transform="translate(1774.8 878.8) rotate(-45)" font-size="30" text-anchor="end" letter-spacing="-0.5">KC</text>
<rect x="1838.65" y="835" width="5.7" height="14.6" fill="#000"/>
<text transform="translate(1847.3 878.8) rotate(-45)" font-size="30" text-anchor="end" letter-spacing="-0.5">MCSF</text>
<text transform="translate(1341.5 706.3) rotate(-90)" font-size="29" textLength="78.5" lengthAdjust="spacing">pg/mL</text>
<circle cx="1731.2" cy="491.8" r="5.3" fill="none" stroke="#000" stroke-width="2.9"/>
<polygon points="1731.2,527.8 1736.5,537.8 1725.9,537.8" fill="none" stroke="#000" stroke-width="3" stroke-linejoin="miter"/>
<polygon points="1731.2,568.5 1736.1,573.4 1731.2,578.3 1726.3,573.4" fill="none" stroke="#000" stroke-width="3" stroke-linejoin="miter"/>
<text x="1793.2" y="500.8" font-size="25.7" textLength="174" lengthAdjust="spacing" fill="#0000ff">YUMM2.1 EV</text>
<text x="1793.2" y="541.6" font-size="25.7" textLength="179.5" lengthAdjust="spacing" fill="#ff0000">YUMM2.1 WT</text>
<text x="1793.2" y="582.4" font-size="25.7" textLength="206" lengthAdjust="spacing" fill="#ba55d3">YUMM2.1 dHLH</text>
<text x="0.6" y="1026.2" font-size="44">e</text>
<rect x="70.7" y="1135.7" width="3.2" height="629.8" fill="#000"/>
<text transform="translate(53.6 1502.2) rotate(-90)" font-size="31" textLength="134" lengthAdjust="spacing">YUMM2.1</text>
<text transform="translate(118.9 1316.8) rotate(-90)" font-size="27.3" textLength="161" lengthAdjust="spacing">%CD45+ cells</text>
<text transform="translate(119.9 1781.4) rotate(-90)" font-size="27.3" textLength="161" lengthAdjust="spacing">%CD45+ cells</text>
<text x="271.75" y="1036" font-size="26.5" text-anchor="middle" textLength="96.3" lengthAdjust="spacing">M-MDSC</text>
<text x="227.8" y="1076.3" font-size="20" textLength="84.9" lengthAdjust="spacing">P = 0.0241</text>
<text x="258.1" y="1136.1" font-size="20" textLength="85.3" lengthAdjust="spacing">P = 0.0237</text>
<text x="197.3" y="1218.2" font-size="20" textLength="84.8" lengthAdjust="spacing">P = 0.9941</text>
<path d="M219.3 1187.7V1096H322V1105.8" fill="none" stroke="#000" stroke-width="5.1" stroke-linejoin="miter"/>
<path d="M280.6 1209.6V1155.9H322V1174.6" fill="none" stroke="#000" stroke-width="5.1" stroke-linejoin="miter"/>
<path d="M219.3 1307.8V1237.5H261.3V1307.8" fill="none" stroke="#000" stroke-width="5.1" stroke-linejoin="miter"/>
<circle cx="219.3" cy="1317.1" r="5" fill="#000"/>
<circle cx="207.5" cy="1335.3" r="5" fill="#000"/>
<circle cx="232.2" cy="1336.9" r="5" fill="#000"/>
<circle cx="219.3" cy="1342.5" r="5" fill="#000"/>
<circle cx="232.2" cy="1347.2" r="5" fill="#000"/>
<circle cx="219.3" cy="1354.7" r="5" fill="#000"/>
<circle cx="232.2" cy="1356.8" r="5" fill="#000"/>
<circle cx="207.5" cy="1360.5" r="5" fill="#000"/>
<rect x="270.2" y="1323.5" width="10" height="10" fill="#000"/>
<rect x="262.2" y="1327.8" width="10" height="10" fill="#000"/>
<rect x="254" y="1342" width="10" height="10" fill="#000"/>
<rect x="262" y="1344" width="10" height="10" fill="#000"/>
<rect x="270.5" y="1345.5" width="10" height="10" fill="#000"/>
<rect x="278.5" y="1345.5" width="10" height="10" fill="#000"/>
<rect x="254" y="1352" width="10" height="10" fill="#000"/>
<polygon points="322,1181.35 327.1,1190.65 316.9,1190.65" fill="#000"/>
<polygon points="322,1220.05 327.1,1229.35 316.9,1229.35" fill="#000"/>
<polygon points="309.6,1304.85 314.7,1314.15 304.5,1314.15" fill="#000"/>
<polygon points="309.6,1315.25 314.7,1324.55 304.5,1324.55" fill="#000"/>
<polygon points="335,1311.95 340.1,1321.25 329.9,1321.25" fill="#000"/>
<polygon points="335,1324.25 340.1,1333.55 329.9,1333.55" fill="#000"/>
<polygon points="322,1345.75 327.1,1355.05 316.9,1355.05" fill="#000"/>
<rect x="202.2" y="1341" width="34.2" height="5" fill="#000"/>
<rect x="218.15" y="1339.2" width="2.3" height="9.5" fill="#000"/>
<rect x="210.6" y="1338.05" width="17.4" height="2.3" fill="#000"/>
<rect x="210.6" y="1347.55" width="17.4" height="2.3" fill="#000"/>
<rect x="253.3" y="1342" width="34.2" height="5" fill="#000"/>
<rect x="269.25" y="1341" width="2.3" height="7" fill="#000"/>
<rect x="261.7" y="1339.85" width="17.4" height="2.3" fill="#000"/>
<rect x="261.7" y="1346.85" width="17.4" height="2.3" fill="#000"/>
<rect x="304.6" y="1287.7" width="34.2" height="5" fill="#000"/>
<rect x="320.55" y="1267.6" width="2.3" height="45.2" fill="#000"/>
<rect x="313" y="1266.45" width="17.4" height="2.3" fill="#000"/>
<rect x="313" y="1311.65" width="17.4" height="2.3" fill="#000"/>
<rect x="183.05" y="1086.95" width="5.1" height="292.1" fill="#000"/>
<rect x="170.9" y="1373.95" width="189.2" height="5.1" fill="#000"/>
<rect x="170.9" y="1086.95" width="14.7" height="5.1" fill="#000"/>
<text x="164.8" y="1097.7" font-size="23" text-anchor="end">30</text>
<rect x="170.9" y="1182.65" width="14.7" height="5.1" fill="#000"/>
<text x="164.8" y="1193.4" font-size="23" text-anchor="end">20</text>
<rect x="170.9" y="1278.45" width="14.7" height="5.1" fill="#000"/>
<text x="164.8" y="1289.2" font-size="23" text-anchor="end">10</text>
<rect x="170.9" y="1373.95" width="14.7" height="5.1" fill="#000"/>
<text x="164.8" y="1384.7" font-size="23" text-anchor="end">0</text>
<rect x="216.75" y="1376.5" width="5.1" height="14.5" fill="#000"/>
<text transform="translate(220.7 1416.7) rotate(-45)" font-size="25.3" text-anchor="end" letter-spacing="-1">EV</text>
<rect x="267.85" y="1376.5" width="5.1" height="14.5" fill="#000"/>
<text transform="translate(277.1 1416.7) rotate(-45)" font-size="25.3" text-anchor="end" letter-spacing="-1">WT</text>
<rect x="319.15" y="1376.5" width="5.1" height="14.5" fill="#000"/>
<text transform="translate(328.4 1416.7) rotate(-45)" font-size="25.3" text-anchor="end" letter-spacing="-1">dHLH</text>
<text x="507.9" y="1035.8" font-size="26.5" text-anchor="middle" textLength="128" lengthAdjust="spacing">PMN-MDSC</text>
<text x="481.8" y="1092" font-size="20" textLength="52.2" lengthAdjust="spacing">0.0439</text>
<text x="451.3" y="1169.6" font-size="20" textLength="52.2" lengthAdjust="spacing">0.0367</text>
<text x="512.1" y="1166.8" font-size="20" textLength="51.8" lengthAdjust="spacing">0.9960</text>
<path d="M456.8 1150.4V1111.8H559.4V1150.4" fill="none" stroke="#000" stroke-width="5.1" stroke-linejoin="miter"/>
<path d="M456.8 1298V1189.3H498.5V1204.9" fill="none" stroke="#000" stroke-width="5.1" stroke-linejoin="miter"/>
<path d="M517.9 1202.3V1186.7H559.4V1203" fill="none" stroke="#000" stroke-width="5.1" stroke-linejoin="miter"/>
<circle cx="456.9" cy="1300.7" r="5" fill="#000"/>
<circle cx="444.7" cy="1316.9" r="5" fill="#000"/>
<circle cx="469.3" cy="1323.2" r="5" fill="#000"/>
<circle cx="456.9" cy="1329.7" r="5" fill="#000"/>
<circle cx="444.7" cy="1336.7" r="5" fill="#000"/>
<circle cx="469.3" cy="1338" r="5" fill="#000"/>
<circle cx="456.9" cy="1344.6" r="5" fill="#000"/>
<circle cx="456.9" cy="1360.4" r="5" fill="#000"/>
<rect x="503.1" y="1196" width="10" height="10" fill="#000"/>
<rect x="503.1" y="1231.1" width="10" height="10" fill="#000"/>
<rect x="491" y="1261" width="10" height="10" fill="#000"/>
<rect x="515.6" y="1264.3" width="10" height="10" fill="#000"/>
<rect x="503.1" y="1282.8" width="10" height="10" fill="#000"/>
<rect x="503.1" y="1310.3" width="10" height="10" fill="#000"/>
<rect x="503.1" y="1343.1" width="10" height="10" fill="#000"/>
<polygon points="559.5,1200.45 564.6,1209.75 554.4,1209.75" fill="#000"/>
<polygon points="559.5,1213.05 564.6,1222.35 554.4,1222.35" fill="#000"/>
<polygon points="559.5,1263.65 564.6,1272.95 554.4,1272.95" fill="#000"/>
<polygon points="559.5,1281.85 564.6,1291.15 554.4,1291.15" fill="#000"/>
<polygon points="547.3,1307.85 552.4,1317.15 542.2,1317.15" fill="#000"/>
<polygon points="572,1314.15 577.1,1323.45 566.9,1323.45" fill="#000"/>
<polygon points="559.5,1324.85 564.6,1334.15 554.4,1334.15" fill="#000"/>
<rect x="439.9" y="1329" width="34.2" height="5" fill="#000"/>
<rect x="455.85" y="1324.9" width="2.3" height="12.2" fill="#000"/>
<rect x="448.3" y="1323.75" width="17.4" height="2.3" fill="#000"/>
<rect x="448.3" y="1335.95" width="17.4" height="2.3" fill="#000"/>
<rect x="491.2" y="1272" width="34.2" height="5" fill="#000"/>
<rect x="507.15" y="1256.3" width="2.3" height="36.9" fill="#000"/>
<rect x="499.6" y="1255.15" width="17.4" height="2.3" fill="#000"/>
<rect x="499.6" y="1292.05" width="17.4" height="2.3" fill="#000"/>
<rect x="542.5" y="1274.1" width="34.2" height="5" fill="#000"/>
<rect x="558.45" y="1257.9" width="2.3" height="37.4" fill="#000"/>
<rect x="550.9" y="1256.75" width="17.4" height="2.3" fill="#000"/>
<rect x="550.9" y="1294.15" width="17.4" height="2.3" fill="#000"/>
<rect x="420.35" y="1085.05" width="5.1" height="292" fill="#000"/>
<rect x="409.1" y="1371.95" width="188" height="5.1" fill="#000"/>
<rect x="409.1" y="1085.05" width="13.8" height="5.1" fill="#000"/>
<text x="402.6" y="1095.8" font-size="23" text-anchor="end">15</text>
<rect x="409.1" y="1180.65" width="13.8" height="5.1" fill="#000"/>
<text x="402.6" y="1191.4" font-size="23" text-anchor="end">10</text>
<rect x="409.1" y="1276.25" width="13.8" height="5.1" fill="#000"/>
<text x="402.6" y="1287" font-size="23" text-anchor="end">5</text>
<rect x="409.1" y="1371.95" width="13.8" height="5.1" fill="#000"/>
<text x="402.6" y="1382.7" font-size="23" text-anchor="end">0</text>
<rect x="454.45" y="1374.5" width="5.1" height="14.5" fill="#000"/>
<text transform="translate(458.4 1414.7) rotate(-45)" font-size="25.3" text-anchor="end" letter-spacing="-1">EV</text>
<rect x="505.75" y="1374.5" width="5.1" height="14.5" fill="#000"/>
<text transform="translate(515 1414.7) rotate(-45)" font-size="25.3" text-anchor="end" letter-spacing="-1">WT</text>
<rect x="557.05" y="1374.5" width="5.1" height="14.5" fill="#000"/>
<text transform="translate(566.3 1414.7) rotate(-45)" font-size="25.3" text-anchor="end" letter-spacing="-1">dHLH</text>
<text x="757" y="1033.4" font-size="26.5" text-anchor="middle" textLength="157.4" lengthAdjust="spacing">Macrophages</text>
<text x="757.5" y="1067.2" font-size="26.5" text-anchor="middle" textLength="54" lengthAdjust="spacing">(Mφ)</text>
<text x="730.7" y="1103.9" font-size="20" textLength="52.6" lengthAdjust="spacing">0.0085</text>
<text x="756.3" y="1167" font-size="20" textLength="51.6" lengthAdjust="spacing">0.0161</text>
<text x="705.1" y="1220.4" font-size="20" textLength="52.6" lengthAdjust="spacing">0.9802</text>
<path d="M706.4 1169.6V1123.4H808.6V1150.8" fill="none" stroke="#000" stroke-width="5.1" stroke-linejoin="miter"/>
<path d="M757.6 1204.4V1186.7H808.6V1209.1" fill="none" stroke="#000" stroke-width="5.1" stroke-linejoin="miter"/>
<path d="M706.4 1269.9V1239.3H757.4V1292.3" fill="none" stroke="#000" stroke-width="5.1" stroke-linejoin="miter"/>
<circle cx="706" cy="1287" r="5" fill="#000"/>
<circle cx="706" cy="1316.2" r="5" fill="#000"/>
<circle cx="719.5" cy="1333.9" r="5" fill="#000"/>
<circle cx="706" cy="1344.1" r="5" fill="#000"/>
<circle cx="693.2" cy="1351" r="5" fill="#000"/>
<circle cx="719.5" cy="1358" r="5" fill="#000"/>
<circle cx="706" cy="1360.6" r="5" fill="#000"/>
<circle cx="706" cy="1373" r="5" fill="#000"/>
<rect x="752.6" y="1304.8" width="10" height="10" fill="#000"/>
<rect x="740.5" y="1338.5" width="10" height="10" fill="#000"/>
<rect x="745.8" y="1334.5" width="10" height="10" fill="#000"/>
<rect x="752.6" y="1333.5" width="10" height="10" fill="#000"/>
<rect x="759.7" y="1339" width="10" height="10" fill="#000"/>
<rect x="765" y="1336.4" width="10" height="10" fill="#000"/>
<rect x="747" y="1340" width="10" height="10" fill="#000"/>
<polygon points="796.7,1216.15 801.8,1225.45 791.6,1225.45" fill="#000"/>
<polygon points="821.9,1219.35 827,1228.65 816.8,1228.65" fill="#000"/>
<polygon points="808.8,1249.85 813.9,1259.15 803.7,1259.15" fill="#000"/>
<polygon points="808.8,1262.05 813.9,1271.35 803.7,1271.35" fill="#000"/>
<polygon points="808.8,1303.25 813.9,1312.55 803.7,1312.55" fill="#000"/>
<polygon points="808.8,1313.65 813.9,1322.95 803.7,1322.95" fill="#000"/>
<polygon points="808.8,1359.55 813.9,1368.85 803.7,1368.85" fill="#000"/>
<rect x="688.9" y="1337.8" width="34.2" height="5" fill="#000"/>
<rect x="704.85" y="1330.3" width="2.3" height="19.6" fill="#000"/>
<rect x="697.3" y="1329.15" width="17.4" height="2.3" fill="#000"/>
<rect x="697.3" y="1348.75" width="17.4" height="2.3" fill="#000"/>
<rect x="740.1" y="1336.7" width="34.2" height="5" fill="#000"/>
<rect x="756.05" y="1336" width="2.3" height="6.5" fill="#000"/>
<rect x="748.5" y="1334.85" width="17.4" height="2.3" fill="#000"/>
<rect x="748.5" y="1341.35" width="17.4" height="2.3" fill="#000"/>
<rect x="791.5" y="1277" width="34.2" height="5" fill="#000"/>
<rect x="807.45" y="1259.2" width="2.3" height="40.6" fill="#000"/>
<rect x="799.9" y="1258.05" width="17.4" height="2.3" fill="#000"/>
<rect x="799.9" y="1298.65" width="17.4" height="2.3" fill="#000"/>
<rect x="669.55" y="1086.75" width="5.1" height="292.2" fill="#000"/>
<rect x="658" y="1373.85" width="187.8" height="5.1" fill="#000"/>
<rect x="658" y="1086.75" width="14.1" height="5.1" fill="#000"/>
<text x="653.2" y="1097.5" font-size="23" text-anchor="end">40</text>
<rect x="658" y="1158.35" width="14.1" height="5.1" fill="#000"/>
<text x="653.2" y="1169.1" font-size="23" text-anchor="end">30</text>
<rect x="658" y="1229.65" width="14.1" height="5.1" fill="#000"/>
<text x="653.2" y="1240.4" font-size="23" text-anchor="end">20</text>
<rect x="658" y="1301.65" width="14.1" height="5.1" fill="#000"/>
<text x="653.2" y="1312.4" font-size="23" text-anchor="end">10</text>
<rect x="658" y="1373.85" width="14.1" height="5.1" fill="#000"/>
<text x="653.2" y="1384.6" font-size="23" text-anchor="end">0</text>
<rect x="703.45" y="1376.4" width="5.1" height="14.5" fill="#000"/>
<text transform="translate(707.4 1416.6) rotate(-45)" font-size="25.3" text-anchor="end" letter-spacing="-1">EV</text>
<rect x="754.65" y="1376.4" width="5.1" height="14.5" fill="#000"/>
<text transform="translate(763.9 1416.6) rotate(-45)" font-size="25.3" text-anchor="end" letter-spacing="-1">WT</text>
<rect x="806.05" y="1376.4" width="5.1" height="14.5" fill="#000"/>
<text transform="translate(815.3 1416.6) rotate(-45)" font-size="25.3" text-anchor="end" letter-spacing="-1">dHLH</text>
<text x="998.35" y="1036.7" font-size="26.5" text-anchor="middle" textLength="75.3" lengthAdjust="spacing">M2 Mφ</text>
<text x="971.9" y="1067.8" font-size="20" textLength="52.9" lengthAdjust="spacing">0.0015</text>
<text x="997.8" y="1132.3" font-size="20" textLength="50.9" lengthAdjust="spacing">0.0021</text>
<text x="940.1" y="1209.3" font-size="20" textLength="65.1" lengthAdjust="spacing">&gt;0.9999</text>
<path d="M946.9 1192V1087.5H1049.4V1115.2" fill="none" stroke="#000" stroke-width="5.1" stroke-linejoin="miter"/>
<path d="M998.5 1187.8V1151.5H1049.4V1217.6" fill="none" stroke="#000" stroke-width="5.1" stroke-linejoin="miter"/>
<path d="M946.9 1277.4V1228.6H998.6V1294.4" fill="none" stroke="#000" stroke-width="5.1" stroke-linejoin="miter"/>
<circle cx="947" cy="1307.2" r="5" fill="#000"/>
<circle cx="947" cy="1322.2" r="5" fill="#000"/>
<circle cx="934.7" cy="1356.7" r="5" fill="#000"/>
<circle cx="947" cy="1347.8" r="5" fill="#000"/>
<circle cx="959.2" cy="1353.1" r="5" fill="#000"/>
<circle cx="951.7" cy="1361.6" r="5" fill="#000"/>
<circle cx="943.2" cy="1371.2" r="5" fill="#000"/>
<circle cx="959.2" cy="1349" r="5" fill="#000"/>
<rect x="993.7" y="1318.7" width="10" height="10" fill="#000"/>
<rect x="980.9" y="1347.5" width="10" height="10" fill="#000"/>
<rect x="987.3" y="1346" width="10" height="10" fill="#000"/>
<rect x="993.7" y="1344.9" width="10" height="10" fill="#000"/>
<rect x="1000" y="1346" width="10" height="10" fill="#000"/>
<rect x="1006.5" y="1340.6" width="10" height="10" fill="#000"/>
<rect x="1006.5" y="1350.2" width="10" height="10" fill="#000"/>
<polygon points="1037.5,1226.85 1042.6,1236.15 1032.4,1236.15" fill="#000"/>
<polygon points="1062.7,1227.45 1067.8,1236.75 1057.6,1236.75" fill="#000"/>
<polygon points="1037.5,1242.85 1042.6,1252.15 1032.4,1252.15" fill="#000"/>
<polygon points="1062.7,1249.85 1067.8,1259.15 1057.6,1259.15" fill="#000"/>
<polygon points="1037.5,1304.75 1042.6,1314.05 1032.4,1314.05" fill="#000"/>
<polygon points="1062.7,1308.95 1067.8,1318.25 1057.6,1318.25" fill="#000"/>
<polygon points="1049.9,1359.75 1055,1369.05 1044.8,1369.05" fill="#000"/>
<rect x="929.5" y="1343.5" width="34.2" height="5" fill="#000"/>
<rect x="945.45" y="1338.8" width="2.3" height="14.4" fill="#000"/>
<rect x="937.9" y="1337.65" width="17.4" height="2.3" fill="#000"/>
<rect x="937.9" y="1352.05" width="17.4" height="2.3" fill="#000"/>
<rect x="981.6" y="1346.3" width="34.2" height="5" fill="#000"/>
<rect x="997.55" y="1345.5" width="2.3" height="6.5" fill="#000"/>
<rect x="990" y="1344.35" width="17.4" height="2.3" fill="#000"/>
<rect x="990" y="1350.85" width="17.4" height="2.3" fill="#000"/>
<rect x="1033.3" y="1275.9" width="34.2" height="5" fill="#000"/>
<rect x="1049.25" y="1258.6" width="2.3" height="38.6" fill="#000"/>
<rect x="1041.7" y="1257.45" width="17.4" height="2.3" fill="#000"/>
<rect x="1041.7" y="1296.05" width="17.4" height="2.3" fill="#000"/>
<rect x="910.55" y="1086.25" width="5.1" height="292.1" fill="#000"/>
<rect x="898.8" y="1373.25" width="188.4" height="5.1" fill="#000"/>
<rect x="898.8" y="1086.25" width="14.3" height="5.1" fill="#000"/>
<text x="893.4" y="1097" font-size="23" text-anchor="end">20</text>
<rect x="898.8" y="1157.85" width="14.3" height="5.1" fill="#000"/>
<text x="893.4" y="1168.6" font-size="23" text-anchor="end">15</text>
<rect x="898.8" y="1229.75" width="14.3" height="5.1" fill="#000"/>
<text x="893.4" y="1240.5" font-size="23" text-anchor="end">10</text>
<rect x="898.8" y="1301.65" width="14.3" height="5.1" fill="#000"/>
<text x="893.4" y="1312.4" font-size="23" text-anchor="end">5</text>
<rect x="898.8" y="1373.25" width="14.3" height="5.1" fill="#000"/>
<text x="893.4" y="1384" font-size="23" text-anchor="end">0</text>
<rect x="944.05" y="1375.8" width="5.1" height="14.5" fill="#000"/>
<text transform="translate(948 1416) rotate(-45)" font-size="25.3" text-anchor="end" letter-spacing="-1">EV</text>
<rect x="996.15" y="1375.8" width="5.1" height="14.5" fill="#000"/>
<text transform="translate(1005.4 1416) rotate(-45)" font-size="25.3" text-anchor="end" letter-spacing="-1">WT</text>
<rect x="1047.85" y="1375.8" width="5.1" height="14.5" fill="#000"/>
<text transform="translate(1057.1 1416) rotate(-45)" font-size="25.3" text-anchor="end" letter-spacing="-1">dHLH</text>
<text x="1233.35" y="1036.7" font-size="26.5" text-anchor="middle" textLength="74.7" lengthAdjust="spacing">M1 Mφ</text>
<text x="1207.2" y="1063.4" font-size="20" textLength="52.9" lengthAdjust="spacing">0.0589</text>
<text x="1176.7" y="1129.5" font-size="20" textLength="52.9" lengthAdjust="spacing">0.9445</text>
<text x="1238.2" y="1129.5" font-size="20" textLength="51.8" lengthAdjust="spacing">0.1235</text>
<path d="M1182.7 1112V1083.5H1285.5V1112" fill="none" stroke="#000" stroke-width="5.1" stroke-linejoin="miter"/>
<path d="M1182.7 1225.5V1149H1224.2V1256.7" fill="none" stroke="#000" stroke-width="5.1" stroke-linejoin="miter"/>
<path d="M1243.9 1256.7V1149H1285.5V1173.9" fill="none" stroke="#000" stroke-width="5.1" stroke-linejoin="miter"/>
<circle cx="1182.8" cy="1265.6" r="5.2" fill="#000"/>
<circle cx="1195.4" cy="1308.9" r="5.2" fill="#000"/>
<circle cx="1182.8" cy="1316.8" r="5.2" fill="#000"/>
<circle cx="1182.8" cy="1331.8" r="5.2" fill="#000"/>
<circle cx="1170.4" cy="1348.8" r="5.2" fill="#000"/>
<circle cx="1182.8" cy="1357.4" r="5.2" fill="#000"/>
<circle cx="1195.4" cy="1356.7" r="5.2" fill="#000"/>
<circle cx="1182.8" cy="1373.4" r="5.2" fill="#000"/>
<rect x="1228.8" y="1290.9" width="10.4" height="10.4" fill="#000"/>
<rect x="1228.8" y="1312.7" width="10.4" height="10.4" fill="#000"/>
<rect x="1228.8" y="1319.8" width="10.4" height="10.4" fill="#000"/>
<rect x="1216.4" y="1332.3" width="10.4" height="10.4" fill="#000"/>
<rect x="1228.8" y="1328.7" width="10.4" height="10.4" fill="#000"/>
<rect x="1241.6" y="1332.3" width="10.4" height="10.4" fill="#000"/>
<rect x="1228.8" y="1323.8" width="10.4" height="10.4" fill="#000"/>
<polygon points="1285.6,1181.3 1292.7,1194.3 1278.5,1194.3" fill="#000"/>
<polygon points="1285.6,1210.7 1292.7,1223.7 1278.5,1223.7" fill="#000"/>
<polygon points="1276,1276.2 1283.1,1289.2 1268.9,1289.2" fill="#000"/>
<polygon points="1295.9,1282.6 1303,1295.6 1288.8,1295.6" fill="#000"/>
<polygon points="1285.6,1299 1292.7,1312 1278.5,1312" fill="#000"/>
<polygon points="1285.6,1321 1292.7,1334 1278.5,1334" fill="#000"/>
<polygon points="1285.6,1357.3 1292.7,1370.3 1278.5,1370.3" fill="#000"/>
<rect x="1165.8" y="1329.9" width="34.2" height="5" fill="#000"/>
<rect x="1181.75" y="1320" width="2.3" height="24.6" fill="#000"/>
<rect x="1174.2" y="1318.85" width="17.4" height="2.3" fill="#000"/>
<rect x="1174.2" y="1343.45" width="17.4" height="2.3" fill="#000"/>
<rect x="1216.8" y="1322.9" width="34.2" height="5" fill="#000"/>
<rect x="1232.75" y="1320" width="2.3" height="11" fill="#000"/>
<rect x="1225.2" y="1318.85" width="17.4" height="2.3" fill="#000"/>
<rect x="1225.2" y="1329.85" width="17.4" height="2.3" fill="#000"/>
<rect x="1268.7" y="1278.1" width="34.2" height="5" fill="#000"/>
<rect x="1284.65" y="1258.2" width="2.3" height="44.8" fill="#000"/>
<rect x="1277.1" y="1257.05" width="17.4" height="2.3" fill="#000"/>
<rect x="1277.1" y="1301.85" width="17.4" height="2.3" fill="#000"/>
<rect x="1145.65" y="1086.25" width="5.1" height="293.1" fill="#000"/>
<rect x="1134.1" y="1374.25" width="188.9" height="5.1" fill="#000"/>
<rect x="1134.1" y="1086.25" width="14.1" height="5.1" fill="#000"/>
<text x="1128.7" y="1097" font-size="23" text-anchor="end">20</text>
<rect x="1134.1" y="1158.35" width="14.1" height="5.1" fill="#000"/>
<text x="1128.7" y="1169.1" font-size="23" text-anchor="end">15</text>
<rect x="1134.1" y="1230.25" width="14.1" height="5.1" fill="#000"/>
<text x="1128.7" y="1241" font-size="23" text-anchor="end">10</text>
<rect x="1134.1" y="1302.25" width="14.1" height="5.1" fill="#000"/>
<text x="1128.7" y="1313" font-size="23" text-anchor="end">5</text>
<rect x="1134.1" y="1374.25" width="14.1" height="5.1" fill="#000"/>
<text x="1128.7" y="1385" font-size="23" text-anchor="end">0</text>
<rect x="1180.35" y="1376.8" width="5.1" height="14.5" fill="#000"/>
<text transform="translate(1184.3 1417) rotate(-45)" font-size="25.3" text-anchor="end" letter-spacing="-1">EV</text>
<rect x="1231.35" y="1376.8" width="5.1" height="14.5" fill="#000"/>
<text transform="translate(1240.6 1417) rotate(-45)" font-size="25.3" text-anchor="end" letter-spacing="-1">WT</text>
<rect x="1283.25" y="1376.8" width="5.1" height="14.5" fill="#000"/>
<text transform="translate(1292.5 1417) rotate(-45)" font-size="25.3" text-anchor="end" letter-spacing="-1">dHLH</text>
<text x="1462.75" y="1034.6" font-size="26.5" text-anchor="middle" textLength="46.5" lengthAdjust="spacing">DCs</text>
<text x="1436.4" y="1065.1" font-size="20" textLength="52.7" lengthAdjust="spacing">0.8043</text>
<text x="1405.3" y="1118.4" font-size="20" textLength="52.8" lengthAdjust="spacing">0.9186</text>
<text x="1466.7" y="1118.4" font-size="20" textLength="52.7" lengthAdjust="spacing">0.9710</text>
<path d="M1411.2 1093.9V1085H1514V1093.9" fill="none" stroke="#000" stroke-width="5.1" stroke-linejoin="miter"/>
<path d="M1411.2 1150.4V1137.8H1452.8V1177.5" fill="none" stroke="#000" stroke-width="5.1" stroke-linejoin="miter"/>
<path d="M1472 1177.5V1137.8H1514V1143" fill="none" stroke="#000" stroke-width="5.1" stroke-linejoin="miter"/>
<circle cx="1411.7" cy="1160.7" r="5" fill="#000"/>
<circle cx="1399.4" cy="1238.5" r="5" fill="#000"/>
<circle cx="1424.5" cy="1240" r="5" fill="#000"/>
<circle cx="1411.7" cy="1252.8" r="5" fill="#000"/>
<circle cx="1424.5" cy="1264.6" r="5" fill="#000"/>
<circle cx="1399.4" cy="1270.5" r="5" fill="#000"/>
<circle cx="1411.7" cy="1297" r="5" fill="#000"/>
<circle cx="1411.7" cy="1338.2" r="5" fill="#000"/>
<rect x="1457.9" y="1176.8" width="10" height="10" fill="#000"/>
<rect x="1445.6" y="1227.6" width="10" height="10" fill="#000"/>
<rect x="1470.7" y="1225.4" width="10" height="10" fill="#000"/>
<rect x="1470.7" y="1245" width="10" height="10" fill="#000"/>
<rect x="1445.6" y="1251" width="10" height="10" fill="#000"/>
<rect x="1457.9" y="1272.4" width="10" height="10" fill="#000"/>
<rect x="1457.9" y="1300.1" width="10" height="10" fill="#000"/>
<polygon points="1514.2,1141.45 1519.3,1150.75 1509.1,1150.75" fill="#000"/>
<polygon points="1514.2,1184.15 1519.3,1193.45 1509.1,1193.45" fill="#000"/>
<polygon points="1514.2,1206.55 1519.3,1215.85 1509.1,1215.85" fill="#000"/>
<polygon points="1514.2,1256.75 1519.3,1266.05 1509.1,1266.05" fill="#000"/>
<polygon points="1501.8,1291.95 1506.9,1301.25 1496.7,1301.25" fill="#000"/>
<polygon points="1514.6,1288.75 1519.7,1298.05 1509.5,1298.05" fill="#000"/>
<polygon points="1526.5,1290.25 1531.6,1299.55 1521.4,1299.55" fill="#000"/>
<rect x="1394.2" y="1255" width="34.2" height="5" fill="#000"/>
<rect x="1410.15" y="1240" width="2.3" height="36.3" fill="#000"/>
<rect x="1402.6" y="1238.85" width="17.4" height="2.3" fill="#000"/>
<rect x="1402.6" y="1275.15" width="17.4" height="2.3" fill="#000"/>
<rect x="1445.5" y="1245" width="34.2" height="5" fill="#000"/>
<rect x="1461.45" y="1231.5" width="2.3" height="30.5" fill="#000"/>
<rect x="1453.9" y="1230.35" width="17.4" height="2.3" fill="#000"/>
<rect x="1453.9" y="1260.85" width="17.4" height="2.3" fill="#000"/>
<rect x="1496.7" y="1238.6" width="34.2" height="5" fill="#000"/>
<rect x="1512.65" y="1217.6" width="2.3" height="47" fill="#000"/>
<rect x="1505.1" y="1216.45" width="17.4" height="2.3" fill="#000"/>
<rect x="1505.1" y="1263.45" width="17.4" height="2.3" fill="#000"/>
<rect x="1374.15" y="1084.15" width="5.1" height="291.6" fill="#000"/>
<rect x="1362.7" y="1370.65" width="188.8" height="5.1" fill="#000"/>
<rect x="1362.7" y="1084.15" width="14" height="5.1" fill="#000"/>
<text x="1356.6" y="1094.9" font-size="23" text-anchor="end">30</text>
<rect x="1362.7" y="1179.65" width="14" height="5.1" fill="#000"/>
<text x="1356.6" y="1190.4" font-size="23" text-anchor="end">20</text>
<rect x="1362.7" y="1275.15" width="14" height="5.1" fill="#000"/>
<text x="1356.6" y="1285.9" font-size="23" text-anchor="end">10</text>
<rect x="1362.7" y="1370.65" width="14" height="5.1" fill="#000"/>
<text x="1356.6" y="1381.4" font-size="23" text-anchor="end">0</text>
<rect x="1408.75" y="1373.2" width="5.1" height="14.5" fill="#000"/>
<text transform="translate(1412.7 1413.4) rotate(-45)" font-size="25.3" text-anchor="end" letter-spacing="-1">EV</text>
<rect x="1460.05" y="1373.2" width="5.1" height="14.5" fill="#000"/>
<text transform="translate(1469.3 1413.4) rotate(-45)" font-size="25.3" text-anchor="end" letter-spacing="-1">WT</text>
<rect x="1511.25" y="1373.2" width="5.1" height="14.5" fill="#000"/>
<text transform="translate(1520.5 1413.4) rotate(-45)" font-size="25.3" text-anchor="end" letter-spacing="-1">dHLH</text>
<text x="272.1" y="1499.5" font-size="26.5" text-anchor="middle" textLength="141.4" lengthAdjust="spacing">Cd4+ T cells</text>
<text x="245.2" y="1526.1" font-size="20" textLength="52.2" lengthAdjust="spacing">0.0039</text>
<text x="270.4" y="1583.7" font-size="20" textLength="52.2" lengthAdjust="spacing">0.2032</text>
<text x="213.7" y="1630.7" font-size="20" textLength="62" lengthAdjust="spacing">&lt;0.0001</text>
<path d="M220.3 1608.3V1546.4H323.1V1569.9" fill="none" stroke="#000" stroke-width="5.1" stroke-linejoin="miter"/>
<path d="M271.5 1614.7V1603.2H323.1V1667" fill="none" stroke="#000" stroke-width="5.1" stroke-linejoin="miter"/>
<path d="M220.3 1713.9V1650.1H271.2V1658.4" fill="none" stroke="#000" stroke-width="5.1" stroke-linejoin="miter"/>
<circle cx="220.1" cy="1743.1" r="5" fill="#000"/>
<circle cx="232.9" cy="1755.5" r="5" fill="#000"/>
<circle cx="220.1" cy="1761.9" r="5" fill="#000"/>
<circle cx="207.3" cy="1780" r="5" fill="#000"/>
<circle cx="232.9" cy="1785.8" r="5" fill="#000"/>
<circle cx="220.1" cy="1790.7" r="5" fill="#000"/>
<circle cx="220.1" cy="1806.7" r="5" fill="#000"/>
<circle cx="220.1" cy="1776" r="5" fill="#000"/>
<rect x="266.4" y="1666.9" width="10" height="10" fill="#000"/>
<rect x="266.4" y="1680.7" width="10" height="10" fill="#000"/>
<rect x="253.6" y="1703.6" width="10" height="10" fill="#000"/>
<rect x="266.4" y="1705.5" width="10" height="10" fill="#000"/>
<rect x="279.2" y="1703.6" width="10" height="10" fill="#000"/>
<rect x="263.2" y="1711" width="10" height="10" fill="#000"/>
<rect x="270.2" y="1711" width="10" height="10" fill="#000"/>
<rect x="266.4" y="1756.3" width="10" height="10" fill="#000"/>
<polygon points="309.8,1709.25 314.9,1718.55 304.7,1718.55" fill="#000"/>
<polygon points="322.6,1703.95 327.7,1713.25 317.5,1713.25" fill="#000"/>
<polygon points="335.4,1710.35 340.5,1719.65 330.3,1719.65" fill="#000"/>
<polygon points="322.6,1739.15 327.7,1748.45 317.5,1748.45" fill="#000"/>
<polygon points="335.4,1734.85 340.5,1744.15 330.3,1744.15" fill="#000"/>
<polygon points="335.4,1745.95 340.5,1755.25 330.3,1755.25" fill="#000"/>
<polygon points="309.8,1750.85 314.9,1760.15 304.7,1760.15" fill="#000"/>
<rect x="203.4" y="1772.8" width="34.2" height="5" fill="#000"/>
<rect x="219.35" y="1768.3" width="2.3" height="13.9" fill="#000"/>
<rect x="211.8" y="1767.15" width="17.4" height="2.3" fill="#000"/>
<rect x="211.8" y="1781.05" width="17.4" height="2.3" fill="#000"/>
<rect x="254.3" y="1706.7" width="34.2" height="5" fill="#000"/>
<rect x="270.25" y="1699.4" width="2.3" height="19.8" fill="#000"/>
<rect x="262.7" y="1698.25" width="17.4" height="2.3" fill="#000"/>
<rect x="262.7" y="1718.05" width="17.4" height="2.3" fill="#000"/>
<rect x="306" y="1729.1" width="34.2" height="5" fill="#000"/>
<rect x="321.95" y="1724.6" width="2.3" height="13.8" fill="#000"/>
<rect x="314.4" y="1723.45" width="17.4" height="2.3" fill="#000"/>
<rect x="314.4" y="1737.25" width="17.4" height="2.3" fill="#000"/>
<rect x="184.25" y="1551.05" width="5.1" height="291.1" fill="#000"/>
<rect x="172.6" y="1837.05" width="187.3" height="5.1" fill="#000"/>
<rect x="172.6" y="1551.05" width="14.2" height="5.1" fill="#000"/>
<text x="166" y="1561.8" font-size="23" text-anchor="end">40</text>
<rect x="172.6" y="1693.95" width="14.2" height="5.1" fill="#000"/>
<text x="166" y="1704.7" font-size="23" text-anchor="end">20</text>
<rect x="172.6" y="1837.05" width="14.2" height="5.1" fill="#000"/>
<text x="166" y="1847.8" font-size="23" text-anchor="end">0</text>
<rect x="217.95" y="1839.6" width="5.1" height="14.5" fill="#000"/>
<text transform="translate(221.9 1879.8) rotate(-45)" font-size="25.3" text-anchor="end" letter-spacing="-1">EV</text>
<rect x="268.85" y="1839.6" width="5.1" height="14.5" fill="#000"/>
<text transform="translate(278.1 1879.8) rotate(-45)" font-size="25.3" text-anchor="end" letter-spacing="-1">WT</text>
<rect x="320.55" y="1839.6" width="5.1" height="14.5" fill="#000"/>
<text transform="translate(329.8 1879.8) rotate(-45)" font-size="25.3" text-anchor="end" letter-spacing="-1">dHLH</text>
<text x="509.45" y="1498.4" font-size="26.5" text-anchor="middle" textLength="141.9" lengthAdjust="spacing">Cd8+ T cells</text>
<text x="482.2" y="1540" font-size="20" textLength="52.2" lengthAdjust="spacing">0.2994</text>
<text x="451.9" y="1629.6" font-size="20" textLength="52.2" lengthAdjust="spacing">0.7918</text>
<text x="513.8" y="1629.6" font-size="20" textLength="49" lengthAdjust="spacing">0.1131</text>
<path d="M457.2 1605.1V1560H560.2V1605.1" fill="none" stroke="#000" stroke-width="5.1" stroke-linejoin="miter"/>
<path d="M457.2 1710V1649.2H499.2V1689.4" fill="none" stroke="#000" stroke-width="5.1" stroke-linejoin="miter"/>
<path d="M519 1687.9V1649.2H560.2V1729.3" fill="none" stroke="#000" stroke-width="5.1" stroke-linejoin="miter"/>
<circle cx="444.9" cy="1713.3" r="5" fill="#000"/>
<circle cx="470.1" cy="1717.1" r="5" fill="#000"/>
<circle cx="457.7" cy="1724.1" r="5" fill="#000"/>
<circle cx="457.7" cy="1741.6" r="5" fill="#000"/>
<circle cx="444.9" cy="1761.5" r="5" fill="#000"/>
<circle cx="457.7" cy="1761.5" r="5" fill="#000"/>
<circle cx="470.1" cy="1761.5" r="5" fill="#000"/>
<circle cx="457.7" cy="1777.3" r="5" fill="#000"/>
<rect x="504" y="1690.3" width="10" height="10" fill="#000"/>
<rect x="516.3" y="1708.9" width="10" height="10" fill="#000"/>
<rect x="491.8" y="1715.3" width="10" height="10" fill="#000"/>
<rect x="516.3" y="1724.9" width="10" height="10" fill="#000"/>
<rect x="504" y="1736.6" width="10" height="10" fill="#000"/>
<rect x="504" y="1763.3" width="10" height="10" fill="#000"/>
<rect x="504" y="1780.4" width="10" height="10" fill="#000"/>
<polygon points="548,1742.95 553.1,1752.25 542.9,1752.25" fill="#000"/>
<polygon points="560.8,1738.45 565.9,1747.75 555.7,1747.75" fill="#000"/>
<polygon points="573.6,1746.55 578.7,1755.85 568.5,1755.85" fill="#000"/>
<polygon points="548,1765.75 553.1,1775.05 542.9,1775.05" fill="#000"/>
<polygon points="548,1776.45 553.1,1785.75 542.9,1785.75" fill="#000"/>
<polygon points="560.8,1775.35 565.9,1784.65 555.7,1784.65" fill="#000"/>
<polygon points="573.6,1775.35 578.7,1784.65 568.5,1784.65" fill="#000"/>
<rect x="440.3" y="1741.9" width="34.2" height="5" fill="#000"/>
<rect x="456.25" y="1736.3" width="2.3" height="16" fill="#000"/>
<rect x="448.7" y="1735.15" width="17.4" height="2.3" fill="#000"/>
<rect x="448.7" y="1751.15" width="17.4" height="2.3" fill="#000"/>
<rect x="491.5" y="1733.8" width="34.2" height="5" fill="#000"/>
<rect x="507.45" y="1725.2" width="2.3" height="22.8" fill="#000"/>
<rect x="499.9" y="1724.05" width="17.4" height="2.3" fill="#000"/>
<rect x="499.9" y="1746.85" width="17.4" height="2.3" fill="#000"/>
<rect x="543.3" y="1761.5" width="34.2" height="5" fill="#000"/>
<rect x="559.25" y="1757.6" width="2.3" height="12.8" fill="#000"/>
<rect x="551.7" y="1756.45" width="17.4" height="2.3" fill="#000"/>
<rect x="551.7" y="1769.25" width="17.4" height="2.3" fill="#000"/>
<rect x="420.75" y="1552.05" width="5.1" height="292.6" fill="#000"/>
<rect x="409.1" y="1839.55" width="188.4" height="5.1" fill="#000"/>
<rect x="409.1" y="1552.05" width="14.2" height="5.1" fill="#000"/>
<text x="402.6" y="1562.8" font-size="23" text-anchor="end">30</text>
<rect x="409.1" y="1647.65" width="14.2" height="5.1" fill="#000"/>
<text x="402.6" y="1658.4" font-size="23" text-anchor="end">20</text>
<rect x="409.1" y="1743.45" width="14.2" height="5.1" fill="#000"/>
<text x="402.6" y="1754.2" font-size="23" text-anchor="end">10</text>
<rect x="409.1" y="1839.55" width="14.2" height="5.1" fill="#000"/>
<text x="402.6" y="1850.3" font-size="23" text-anchor="end">0</text>
<rect x="454.85" y="1842.1" width="5.1" height="14.5" fill="#000"/>
<text transform="translate(458.8 1882.3) rotate(-45)" font-size="25.3" text-anchor="end" letter-spacing="-1">EV</text>
<rect x="506.05" y="1842.1" width="5.1" height="14.5" fill="#000"/>
<text transform="translate(515.3 1882.3) rotate(-45)" font-size="25.3" text-anchor="end" letter-spacing="-1">WT</text>
<rect x="557.85" y="1842.1" width="5.1" height="14.5" fill="#000"/>
<text transform="translate(567.1 1882.3) rotate(-45)" font-size="25.3" text-anchor="end" letter-spacing="-1">dHLH</text>
<text x="753.5" y="1498.4" font-size="26.5" text-anchor="middle" textLength="75.8" lengthAdjust="spacing">B cells</text>
<text x="726.8" y="1557.1" font-size="20" textLength="52.3" lengthAdjust="spacing">0.3607</text>
<text x="695.9" y="1625.4" font-size="20" textLength="52.9" lengthAdjust="spacing">0.4372</text>
<text x="757.1" y="1623.6" font-size="20" textLength="51.8" lengthAdjust="spacing">0.9891</text>
<path d="M701.9 1600.8V1577H804.2V1601.2" fill="none" stroke="#000" stroke-width="5.1" stroke-linejoin="miter"/>
<path d="M701.9 1696.8V1643.8H743.2V1652.7" fill="none" stroke="#000" stroke-width="5.1" stroke-linejoin="miter"/>
<path d="M763 1655.2V1643.2H804.2V1667.4" fill="none" stroke="#000" stroke-width="5.1" stroke-linejoin="miter"/>
<circle cx="702.2" cy="1705.4" r="5" fill="#000"/>
<circle cx="690" cy="1718.2" r="5" fill="#000"/>
<circle cx="715" cy="1715" r="5" fill="#000"/>
<circle cx="690" cy="1755.5" r="5" fill="#000"/>
<circle cx="715" cy="1759.1" r="5" fill="#000"/>
<circle cx="690" cy="1765.5" r="5" fill="#000"/>
<circle cx="702.2" cy="1775.3" r="5" fill="#000"/>
<circle cx="702.2" cy="1809.9" r="5" fill="#000"/>
<rect x="748.4" y="1657.3" width="10" height="10" fill="#000"/>
<rect x="748.4" y="1695.5" width="10" height="10" fill="#000"/>
<rect x="735.6" y="1716.4" width="10" height="10" fill="#000"/>
<rect x="760.7" y="1720.6" width="10" height="10" fill="#000"/>
<rect x="735.6" y="1732.4" width="10" height="10" fill="#000"/>
<rect x="760.7" y="1740.9" width="10" height="10" fill="#000"/>
<rect x="748.4" y="1757.5" width="10" height="10" fill="#000"/>
<polygon points="792.4,1669.75 797.5,1679.05 787.3,1679.05" fill="#000"/>
<polygon points="817.4,1670.85 822.5,1680.15 812.3,1680.15" fill="#000"/>
<polygon points="804.8,1676.15 809.9,1685.45 799.7,1685.45" fill="#000"/>
<polygon points="804.8,1688.95 809.9,1698.25 799.7,1698.25" fill="#000"/>
<polygon points="804.8,1726.35 809.9,1735.65 799.7,1735.65" fill="#000"/>
<polygon points="804.8,1742.35 809.9,1751.65 799.7,1751.65" fill="#000"/>
<polygon points="804.8,1829.75 809.9,1839.05 799.7,1839.05" fill="#000"/>
<rect x="685" y="1748.1" width="34.2" height="5" fill="#000"/>
<rect x="700.95" y="1737.8" width="2.3" height="25.2" fill="#000"/>
<rect x="693.4" y="1736.65" width="17.4" height="2.3" fill="#000"/>
<rect x="693.4" y="1761.85" width="17.4" height="2.3" fill="#000"/>
<rect x="736.2" y="1721" width="34.2" height="5" fill="#000"/>
<rect x="752.15" y="1709.2" width="2.3" height="25" fill="#000"/>
<rect x="744.6" y="1708.05" width="17.4" height="2.3" fill="#000"/>
<rect x="744.6" y="1733.05" width="17.4" height="2.3" fill="#000"/>
<rect x="787.2" y="1716.7" width="34.2" height="5" fill="#000"/>
<rect x="803.15" y="1696.4" width="2.3" height="44.8" fill="#000"/>
<rect x="795.6" y="1695.25" width="17.4" height="2.3" fill="#000"/>
<rect x="795.6" y="1740.05" width="17.4" height="2.3" fill="#000"/>
<rect x="664.85" y="1549.95" width="5.1" height="292.2" fill="#000"/>
<rect x="653.7" y="1837.05" width="188.4" height="5.1" fill="#000"/>
<rect x="653.7" y="1549.95" width="13.7" height="5.1" fill="#000"/>
<text x="648.3" y="1560.7" font-size="23" text-anchor="end">4</text>
<rect x="653.7" y="1621.55" width="13.7" height="5.1" fill="#000"/>
<text x="648.3" y="1632.3" font-size="23" text-anchor="end">3</text>
<rect x="653.7" y="1693.45" width="13.7" height="5.1" fill="#000"/>
<text x="648.3" y="1704.2" font-size="23" text-anchor="end">2</text>
<rect x="653.7" y="1765.15" width="13.7" height="5.1" fill="#000"/>
<text x="648.3" y="1775.9" font-size="23" text-anchor="end">1</text>
<rect x="653.7" y="1837.05" width="13.7" height="5.1" fill="#000"/>
<text x="648.3" y="1847.8" font-size="23" text-anchor="end">0</text>
<rect x="699.55" y="1839.6" width="5.1" height="14.5" fill="#000"/>
<text transform="translate(703.5 1879.8) rotate(-45)" font-size="25.3" text-anchor="end" letter-spacing="-1">EV</text>
<rect x="750.75" y="1839.6" width="5.1" height="14.5" fill="#000"/>
<text transform="translate(760 1879.8) rotate(-45)" font-size="25.3" text-anchor="end" letter-spacing="-1">WT</text>
<rect x="801.75" y="1839.6" width="5.1" height="14.5" fill="#000"/>
<text transform="translate(811 1879.8) rotate(-45)" font-size="25.3" text-anchor="end" letter-spacing="-1">dHLH</text>
<text x="1001.35" y="1494.1" font-size="26.5" text-anchor="middle" textLength="92.9" lengthAdjust="spacing">NK cells</text>
<text x="973.6" y="1535.7" font-size="20" textLength="52.9" lengthAdjust="spacing">0.2793</text>
<text x="999.2" y="1597.6" font-size="20" textLength="51.2" lengthAdjust="spacing">0.0051</text>
<text x="948" y="1667.6" font-size="20" textLength="52.9" lengthAdjust="spacing">0.1063</text>
<path d="M948.4 1628.5V1555.7H1051.2V1576.7" fill="none" stroke="#000" stroke-width="5.1" stroke-linejoin="miter"/>
<path d="M999.8 1647.8V1617.6H1051.2V1720.9" fill="none" stroke="#000" stroke-width="5.1" stroke-linejoin="miter"/>
<path d="M948.4 1711.3V1686.9H1000V1702.8" fill="none" stroke="#000" stroke-width="5.1" stroke-linejoin="miter"/>
<circle cx="949" cy="1727.8" r="5" fill="#000"/>
<circle cx="949" cy="1742.1" r="5" fill="#000"/>
<circle cx="936.8" cy="1760.4" r="5" fill="#000"/>
<circle cx="949" cy="1758.7" r="5" fill="#000"/>
<circle cx="961.3" cy="1758.7" r="5" fill="#000"/>
<circle cx="949" cy="1785.4" r="5" fill="#000"/>
<circle cx="949" cy="1802.9" r="5" fill="#000"/>
<circle cx="943" cy="1759.5" r="5" fill="#000"/>
<rect x="995.2" y="1704.6" width="10" height="10" fill="#000"/>
<rect x="983" y="1729.2" width="10" height="10" fill="#000"/>
<rect x="995.2" y="1733.5" width="10" height="10" fill="#000"/>
<rect x="1008.2" y="1733.9" width="10" height="10" fill="#000"/>
<rect x="995.2" y="1742" width="10" height="10" fill="#000"/>
<rect x="983" y="1752" width="10" height="10" fill="#000"/>
<rect x="1008.2" y="1749.9" width="10" height="10" fill="#000"/>
<polygon points="1051.4,1748.05 1056.5,1757.35 1046.3,1757.35" fill="#000"/>
<polygon points="1064.4,1758.35 1069.5,1767.65 1059.3,1767.65" fill="#000"/>
<polygon points="1039.2,1763.65 1044.3,1772.95 1034.1,1772.95" fill="#000"/>
<polygon points="1039.2,1778.55 1044.3,1787.85 1034.1,1787.85" fill="#000"/>
<polygon points="1064.4,1775.35 1069.5,1784.65 1059.3,1784.65" fill="#000"/>
<polygon points="1064.4,1792.85 1069.5,1802.15 1059.3,1802.15" fill="#000"/>
<polygon points="1039.2,1797.35 1044.3,1806.65 1034.1,1806.65" fill="#000"/>
<rect x="931.4" y="1756.8" width="34.2" height="5" fill="#000"/>
<rect x="947.35" y="1753.4" width="2.3" height="16" fill="#000"/>
<rect x="939.8" y="1752.25" width="17.4" height="2.3" fill="#000"/>
<rect x="939.8" y="1768.25" width="17.4" height="2.3" fill="#000"/>
<rect x="983" y="1737" width="34.2" height="5" fill="#000"/>
<rect x="998.95" y="1733.5" width="2.3" height="12.4" fill="#000"/>
<rect x="991.4" y="1732.35" width="17.4" height="2.3" fill="#000"/>
<rect x="991.4" y="1744.75" width="17.4" height="2.3" fill="#000"/>
<rect x="1034.4" y="1775.4" width="34.2" height="5" fill="#000"/>
<rect x="1050.35" y="1770.4" width="2.3" height="14.3" fill="#000"/>
<rect x="1042.8" y="1769.25" width="17.4" height="2.3" fill="#000"/>
<rect x="1042.8" y="1783.55" width="17.4" height="2.3" fill="#000"/>
<rect x="911.65" y="1550.05" width="5.1" height="292.8" fill="#000"/>
<rect x="900.5" y="1837.75" width="188.4" height="5.1" fill="#000"/>
<rect x="900.5" y="1550.05" width="13.7" height="5.1" fill="#000"/>
<text x="894.4" y="1560.8" font-size="23" text-anchor="end">15</text>
<rect x="900.5" y="1607.65" width="13.7" height="5.1" fill="#000"/>
<text x="894.4" y="1618.4" font-size="23" text-anchor="end">12</text>
<rect x="900.5" y="1665.05" width="13.7" height="5.1" fill="#000"/>
<text x="894.4" y="1675.8" font-size="23" text-anchor="end">9</text>
<rect x="900.5" y="1722.55" width="13.7" height="5.1" fill="#000"/>
<text x="894.4" y="1733.3" font-size="23" text-anchor="end">6</text>
<rect x="900.5" y="1780.05" width="13.7" height="5.1" fill="#000"/>
<text x="894.4" y="1790.8" font-size="23" text-anchor="end">3</text>
<rect x="900.5" y="1837.75" width="13.7" height="5.1" fill="#000"/>
<text x="894.4" y="1848.5" font-size="23" text-anchor="end">0</text>
<rect x="945.95" y="1840.3" width="5.1" height="14.5" fill="#000"/>
<text transform="translate(949.9 1880.5) rotate(-45)" font-size="25.3" text-anchor="end" letter-spacing="-1">EV</text>
<rect x="997.55" y="1840.3" width="5.1" height="14.5" fill="#000"/>
<text transform="translate(1006.8 1880.5) rotate(-45)" font-size="25.3" text-anchor="end" letter-spacing="-1">WT</text>
<rect x="1048.95" y="1840.3" width="5.1" height="14.5" fill="#000"/>
<text transform="translate(1058.2 1880.5) rotate(-45)" font-size="25.3" text-anchor="end" letter-spacing="-1">dHLH</text>
<text x="1235.7" y="1496.3" font-size="26.5" text-anchor="middle" textLength="143.4" lengthAdjust="spacing">Cd103+ DCs</text>
<text x="1209.4" y="1539.4" font-size="20" textLength="53.3" lengthAdjust="spacing">0.0123</text>
<text x="1178.9" y="1622.2" font-size="20" textLength="51.3" lengthAdjust="spacing">0.8957</text>
<text x="1240.3" y="1620" font-size="20" textLength="52.2" lengthAdjust="spacing">0.0383</text>
<path d="M1184.8 1595.5V1558.9H1287.6V1595.5" fill="none" stroke="#000" stroke-width="5.1" stroke-linejoin="miter"/>
<path d="M1184.8 1662.7V1642.4H1226.4V1691.5" fill="none" stroke="#000" stroke-width="5.1" stroke-linejoin="miter"/>
<path d="M1246 1693.6V1639.2H1287.6V1771.5" fill="none" stroke="#000" stroke-width="5.1" stroke-linejoin="miter"/>
<circle cx="1173" cy="1671.2" r="5" fill="#000"/>
<circle cx="1198.1" cy="1662" r="5" fill="#000"/>
<circle cx="1198.1" cy="1730.5" r="5" fill="#000"/>
<circle cx="1173" cy="1738" r="5" fill="#000"/>
<circle cx="1173" cy="1750.2" r="5" fill="#000"/>
<circle cx="1198.1" cy="1748" r="5" fill="#000"/>
<circle cx="1185.3" cy="1765.5" r="5" fill="#000"/>
<circle cx="1185.3" cy="1810.5" r="5" fill="#000"/>
<rect x="1231.5" y="1690.3" width="10" height="10" fill="#000"/>
<rect x="1243.9" y="1710.6" width="10" height="10" fill="#000"/>
<rect x="1219.2" y="1716.4" width="10" height="10" fill="#000"/>
<rect x="1243.9" y="1723.8" width="10" height="10" fill="#000"/>
<rect x="1219.2" y="1727.7" width="10" height="10" fill="#000"/>
<rect x="1219.2" y="1802.1" width="10" height="10" fill="#000"/>
<rect x="1243.9" y="1800.6" width="10" height="10" fill="#000"/>
<polygon points="1281.4,1769.45 1286.5,1778.75 1276.3,1778.75" fill="#000"/>
<polygon points="1294.2,1771.55 1299.3,1780.85 1289.1,1780.85" fill="#000"/>
<polygon points="1281.4,1799.35 1286.5,1808.65 1276.3,1808.65" fill="#000"/>
<polygon points="1287.8,1798.85 1292.9,1808.15 1282.7,1808.15" fill="#000"/>
<polygon points="1294.2,1799.85 1299.3,1809.15 1289.1,1809.15" fill="#000"/>
<polygon points="1275,1812.75 1280.1,1822.05 1269.9,1822.05" fill="#000"/>
<polygon points="1287.8,1809.95 1292.9,1819.25 1282.7,1819.25" fill="#000"/>
<polygon points="1300.6,1812.75 1305.7,1822.05 1295.5,1822.05" fill="#000"/>
<rect x="1167.9" y="1732.1" width="34.2" height="5" fill="#000"/>
<rect x="1183.85" y="1717.5" width="2.3" height="33.7" fill="#000"/>
<rect x="1176.3" y="1716.35" width="17.4" height="2.3" fill="#000"/>
<rect x="1176.3" y="1750.05" width="17.4" height="2.3" fill="#000"/>
<rect x="1219.1" y="1741.3" width="34.2" height="5" fill="#000"/>
<rect x="1235.05" y="1727.1" width="2.3" height="33.1" fill="#000"/>
<rect x="1227.5" y="1725.95" width="17.4" height="2.3" fill="#000"/>
<rect x="1227.5" y="1759.05" width="17.4" height="2.3" fill="#000"/>
<rect x="1270.3" y="1798.2" width="34.2" height="5" fill="#000"/>
<rect x="1286.25" y="1793.3" width="2.3" height="14.5" fill="#000"/>
<rect x="1278.7" y="1792.15" width="17.4" height="2.3" fill="#000"/>
<rect x="1278.7" y="1806.65" width="17.4" height="2.3" fill="#000"/>
<rect x="1147.85" y="1550.05" width="5.1" height="292.1" fill="#000"/>
<rect x="1136.3" y="1837.05" width="188.8" height="5.1" fill="#000"/>
<rect x="1136.3" y="1550.05" width="14.1" height="5.1" fill="#000"/>
<text x="1132.2" y="1560.8" font-size="23" text-anchor="end">15</text>
<rect x="1136.3" y="1645.55" width="14.1" height="5.1" fill="#000"/>
<text x="1132.2" y="1656.3" font-size="23" text-anchor="end">10</text>
<rect x="1136.3" y="1741.25" width="14.1" height="5.1" fill="#000"/>
<text x="1132.2" y="1752" font-size="23" text-anchor="end">5</text>
<rect x="1136.3" y="1837.05" width="14.1" height="5.1" fill="#000"/>
<text x="1132.2" y="1847.8" font-size="23" text-anchor="end">0</text>
<rect x="1182.45" y="1839.6" width="5.1" height="14.5" fill="#000"/>
<text transform="translate(1186.4 1879.8) rotate(-45)" font-size="25.3" text-anchor="end" letter-spacing="-1">EV</text>
<rect x="1233.65" y="1839.6" width="5.1" height="14.5" fill="#000"/>
<text transform="translate(1242.9 1879.8) rotate(-45)" font-size="25.3" text-anchor="end" letter-spacing="-1">WT</text>
<rect x="1284.85" y="1839.6" width="5.1" height="14.5" fill="#000"/>
<text transform="translate(1294.1 1879.8) rotate(-45)" font-size="25.3" text-anchor="end" letter-spacing="-1">dHLH</text>
<text x="1468.15" y="1498" font-size="26.5" text-anchor="middle" textLength="144.1" lengthAdjust="spacing">Cd206+ DCs</text>
<text x="1441.9" y="1528.3" font-size="20" textLength="52.9" lengthAdjust="spacing">0.0338</text>
<text x="1467.1" y="1589.5" font-size="20" textLength="52.9" lengthAdjust="spacing">0.0569</text>
<text x="1415.9" y="1675.9" font-size="20" textLength="52.9" lengthAdjust="spacing">0.9832</text>
<path d="M1416.4 1642.4V1548.2H1520.4V1563.9" fill="none" stroke="#000" stroke-width="5.1" stroke-linejoin="miter"/>
<path d="M1468.5 1649.2V1609.4H1520.4V1632.8" fill="none" stroke="#000" stroke-width="5.1" stroke-linejoin="miter"/>
<path d="M1416.4 1719.2V1696H1468.6V1756.6" fill="none" stroke="#000" stroke-width="5.1" stroke-linejoin="miter"/>
<circle cx="1417" cy="1735.2" r="5" fill="#000"/>
<circle cx="1411.1" cy="1756.1" r="5" fill="#000"/>
<circle cx="1423.2" cy="1764.7" r="5" fill="#000"/>
<circle cx="1417" cy="1779.4" r="5" fill="#000"/>
<circle cx="1405.1" cy="1815.9" r="5" fill="#000"/>
<circle cx="1417" cy="1825.3" r="5" fill="#000"/>
<circle cx="1429.6" cy="1826.3" r="5" fill="#000"/>
<circle cx="1405.1" cy="1833.4" r="5" fill="#000"/>
<rect x="1450.9" y="1768.6" width="10" height="10" fill="#000"/>
<rect x="1463.7" y="1767.1" width="10" height="10" fill="#000"/>
<rect x="1476.5" y="1771.8" width="10" height="10" fill="#000"/>
<rect x="1463.7" y="1779" width="10" height="10" fill="#000"/>
<rect x="1463.7" y="1788.9" width="10" height="10" fill="#000"/>
<rect x="1470.1" y="1801.3" width="10" height="10" fill="#000"/>
<rect x="1457.3" y="1808.5" width="10" height="10" fill="#000"/>
<polygon points="1519.9,1647.35 1525,1656.65 1514.8,1656.65" fill="#000"/>
<polygon points="1519.9,1666.55 1525,1675.85 1514.8,1675.85" fill="#000"/>
<polygon points="1519.9,1687.25 1525,1696.55 1514.8,1696.55" fill="#000"/>
<polygon points="1519.9,1746.55 1525,1755.85 1514.8,1755.85" fill="#000"/>
<polygon points="1507.7,1776.85 1512.8,1786.15 1502.6,1786.15" fill="#000"/>
<polygon points="1507.7,1790.35 1512.8,1799.65 1502.6,1799.65" fill="#000"/>
<polygon points="1532.7,1786.45 1537.8,1795.75 1527.6,1795.75" fill="#000"/>
<rect x="1399.6" y="1789.9" width="34.2" height="5" fill="#000"/>
<rect x="1415.55" y="1778.5" width="2.3" height="27.1" fill="#000"/>
<rect x="1408" y="1777.35" width="17.4" height="2.3" fill="#000"/>
<rect x="1408" y="1804.45" width="17.4" height="2.3" fill="#000"/>
<rect x="1451.6" y="1785" width="34.2" height="5" fill="#000"/>
<rect x="1467.55" y="1781" width="2.3" height="13.5" fill="#000"/>
<rect x="1460" y="1779.85" width="17.4" height="2.3" fill="#000"/>
<rect x="1460" y="1793.35" width="17.4" height="2.3" fill="#000"/>
<rect x="1503.1" y="1730.2" width="34.2" height="5" fill="#000"/>
<rect x="1519.05" y="1709.6" width="2.3" height="45.9" fill="#000"/>
<rect x="1511.5" y="1708.45" width="17.4" height="2.3" fill="#000"/>
<rect x="1511.5" y="1754.35" width="17.4" height="2.3" fill="#000"/>
<rect x="1380.95" y="1551.55" width="5.1" height="293" fill="#000"/>
<rect x="1369" y="1839.45" width="188.7" height="5.1" fill="#000"/>
<rect x="1369" y="1551.55" width="14.5" height="5.1" fill="#000"/>
<text x="1363.4" y="1562.3" font-size="23" text-anchor="end">15</text>
<rect x="1369" y="1647.05" width="14.5" height="5.1" fill="#000"/>
<text x="1363.4" y="1657.8" font-size="23" text-anchor="end">10</text>
<rect x="1369" y="1743.05" width="14.5" height="5.1" fill="#000"/>
<text x="1363.4" y="1753.8" font-size="23" text-anchor="end">5</text>
<rect x="1369" y="1839.45" width="14.5" height="5.1" fill="#000"/>
<text x="1363.4" y="1850.2" font-size="23" text-anchor="end">0</text>
<rect x="1414.15" y="1842" width="5.1" height="14.5" fill="#000"/>
<text transform="translate(1418.1 1882.2) rotate(-45)" font-size="25.3" text-anchor="end" letter-spacing="-1">EV</text>
<rect x="1466.15" y="1842" width="5.1" height="14.5" fill="#000"/>
<text transform="translate(1475.4 1882.2) rotate(-45)" font-size="25.3" text-anchor="end" letter-spacing="-1">WT</text>
<rect x="1517.65" y="1842" width="5.1" height="14.5" fill="#000"/>
<text transform="translate(1526.9 1882.2) rotate(-45)" font-size="25.3" text-anchor="end" letter-spacing="-1">dHLH</text>
<text x="10" y="1977.2" font-size="44">f</text>
<rect x="221.3" y="2065.25" width="63.4" height="6.1" fill="#0000ff"/>
<circle cx="253" cy="2068.3" r="5.7" fill="#0000ff"/>
<text x="320.4" y="2077.8" font-size="27" textLength="49" lengthAdjust="spacing">IgG</text>
<rect x="221.3" y="2118.55" width="63.4" height="6.1" fill="#ff0000"/>
<rect x="247" y="2115.6" width="12" height="12" fill="#ff0000"/>
<text x="320.4" y="2131.3" font-size="27" textLength="117.8" lengthAdjust="spacing">anti-PD1</text>
<text x="252" y="2278.9" font-size="27" textLength="63.5" lengthAdjust="spacing">n=11</text>
<line x1="323.96" y1="2337" x2="323.96" y2="2346.5" stroke="#ff0000" stroke-width="2.6"/>
<line x1="318.21" y1="2337" x2="329.71" y2="2337" stroke="#ff0000" stroke-width="2.6"/>
<line x1="318.21" y1="2346.5" x2="329.71" y2="2346.5" stroke="#ff0000" stroke-width="2.6"/>
<line x1="371.54" y1="2329" x2="371.54" y2="2340.2" stroke="#ff0000" stroke-width="2.6"/>
<line x1="365.79" y1="2329" x2="377.29" y2="2329" stroke="#ff0000" stroke-width="2.6"/>
<line x1="365.79" y1="2340.2" x2="377.29" y2="2340.2" stroke="#ff0000" stroke-width="2.6"/>
<line x1="419.12" y1="2310.6" x2="419.12" y2="2338.2" stroke="#ff0000" stroke-width="2.6"/>
<line x1="413.37" y1="2310.6" x2="424.87" y2="2310.6" stroke="#ff0000" stroke-width="2.6"/>
<line x1="413.37" y1="2338.2" x2="424.87" y2="2338.2" stroke="#ff0000" stroke-width="2.6"/>
<line x1="466.7" y1="2279.6" x2="466.7" y2="2325.9" stroke="#ff0000" stroke-width="2.6"/>
<line x1="460.95" y1="2279.6" x2="472.45" y2="2279.6" stroke="#ff0000" stroke-width="2.6"/>
<line x1="460.95" y1="2325.9" x2="472.45" y2="2325.9" stroke="#ff0000" stroke-width="2.6"/>
<line x1="514.28" y1="2262.7" x2="514.28" y2="2308.2" stroke="#ff0000" stroke-width="2.6"/>
<line x1="508.53" y1="2262.7" x2="520.03" y2="2262.7" stroke="#ff0000" stroke-width="2.6"/>
<line x1="508.53" y1="2308.2" x2="520.03" y2="2308.2" stroke="#ff0000" stroke-width="2.6"/>
<polyline points="228.8,2353.6 276.38,2350.1 323.96,2341.8 371.54,2334.1 419.12,2323.9 466.7,2302.4 514.28,2285.7" fill="none" stroke="#ff0000" stroke-width="6.2" stroke-linejoin="round" stroke-linecap="butt"/>
<rect x="222.8" y="2347.6" width="12" height="12" fill="#ff0000"/>
<rect x="270.38" y="2344.1" width="12" height="12" fill="#ff0000"/>
<rect x="317.96" y="2335.8" width="12" height="12" fill="#ff0000"/>
<rect x="365.54" y="2328.1" width="12" height="12" fill="#ff0000"/>
<rect x="413.12" y="2317.9" width="12" height="12" fill="#ff0000"/>
<rect x="460.7" y="2296.4" width="12" height="12" fill="#ff0000"/>
<rect x="508.28" y="2279.7" width="12" height="12" fill="#ff0000"/>
<line x1="371.54" y1="2304.1" x2="371.54" y2="2317.8" stroke="#0000ff" stroke-width="2.6"/>
<line x1="365.79" y1="2304.1" x2="377.29" y2="2304.1" stroke="#0000ff" stroke-width="2.6"/>
<line x1="365.79" y1="2317.8" x2="377.29" y2="2317.8" stroke="#0000ff" stroke-width="2.6"/>
<line x1="419.12" y1="2265.3" x2="419.12" y2="2289.8" stroke="#0000ff" stroke-width="2.6"/>
<line x1="413.37" y1="2265.3" x2="424.87" y2="2265.3" stroke="#0000ff" stroke-width="2.6"/>
<line x1="413.37" y1="2289.8" x2="424.87" y2="2289.8" stroke="#0000ff" stroke-width="2.6"/>
<line x1="466.7" y1="2222.9" x2="466.7" y2="2254.5" stroke="#0000ff" stroke-width="2.6"/>
<line x1="460.95" y1="2222.9" x2="472.45" y2="2222.9" stroke="#0000ff" stroke-width="2.6"/>
<line x1="460.95" y1="2254.5" x2="472.45" y2="2254.5" stroke="#0000ff" stroke-width="2.6"/>
<line x1="514.28" y1="2130.4" x2="514.28" y2="2188.2" stroke="#0000ff" stroke-width="2.6"/>
<line x1="508.53" y1="2130.4" x2="520.03" y2="2130.4" stroke="#0000ff" stroke-width="2.6"/>
<line x1="508.53" y1="2188.2" x2="520.03" y2="2188.2" stroke="#0000ff" stroke-width="2.6"/>
<polyline points="228.8,2355 276.38,2346.8 323.96,2331.3 371.54,2310.6 419.12,2276.9 466.7,2238.2 514.28,2159.6" fill="none" stroke="#0000ff" stroke-width="6.2" stroke-linejoin="round" stroke-linecap="butt"/>
<circle cx="228.8" cy="2355" r="6.1" fill="#0000ff"/>
<circle cx="276.38" cy="2346.8" r="6.1" fill="#0000ff"/>
<circle cx="323.96" cy="2331.3" r="6.1" fill="#0000ff"/>
<circle cx="371.54" cy="2310.6" r="6.1" fill="#0000ff"/>
<circle cx="419.12" cy="2276.9" r="6.1" fill="#0000ff"/>
<circle cx="466.7" cy="2238.2" r="6.1" fill="#0000ff"/>
<circle cx="514.28" cy="2159.6" r="6.1" fill="#0000ff"/>
<rect x="194.5" y="2045" width="6" height="331.9" fill="#000"/>
<rect x="180" y="2370.9" width="370" height="6" fill="#000"/>
<rect x="180" y="2045" width="17.5" height="6" fill="#000"/>
<text x="173.2" y="2057.9" font-size="28" text-anchor="end">1500</text>
<rect x="180" y="2153.8" width="17.5" height="6" fill="#000"/>
<text x="173.2" y="2166.7" font-size="28" text-anchor="end">1000</text>
<rect x="180" y="2262.7" width="17.5" height="6" fill="#000"/>
<text x="173.2" y="2275.6" font-size="28" text-anchor="end">500</text>
<rect x="180" y="2370.9" width="17.5" height="6" fill="#000"/>
<text x="173.2" y="2383.8" font-size="28" text-anchor="end">0</text>
<rect x="225.8" y="2373.9" width="6" height="17.5" fill="#000"/>
<text transform="translate(236 2419.7) rotate(-45)" font-size="28" text-anchor="end">0</text>
<rect x="273.38" y="2373.9" width="6" height="17.5" fill="#000"/>
<text transform="translate(283.58 2419.7) rotate(-45)" font-size="28" text-anchor="end">3</text>
<rect x="320.96" y="2373.9" width="6" height="17.5" fill="#000"/>
<text transform="translate(331.16 2419.7) rotate(-45)" font-size="28" text-anchor="end">6</text>
<rect x="368.54" y="2373.9" width="6" height="17.5" fill="#000"/>
<text transform="translate(378.74 2419.7) rotate(-45)" font-size="28" text-anchor="end">9</text>
<rect x="416.12" y="2373.9" width="6" height="17.5" fill="#000"/>
<text transform="translate(426.32 2419.7) rotate(-45)" font-size="28" text-anchor="end">12</text>
<rect x="463.7" y="2373.9" width="6" height="17.5" fill="#000"/>
<text transform="translate(473.9 2419.7) rotate(-45)" font-size="28" text-anchor="end">15</text>
<rect x="511.28" y="2373.9" width="6" height="17.5" fill="#000"/>
<text transform="translate(521.48 2419.7) rotate(-45)" font-size="28" text-anchor="end">18</text>
<text x="281.7" y="2004.2" font-size="31" textLength="183.6" lengthAdjust="spacing">YUMM2.1 EV</text>
<text transform="translate(82.4 2361.7) rotate(-90)" font-size="31" letter-spacing="-0.15">Tumor volume (mm<tspan dy="-13.95" font-size="24.18">3)</tspan></text>
<text x="228.3" y="2495.3" font-size="31" textLength="291.5" lengthAdjust="spacing">Days after treatment</text>
<path d="M523.3 2161.45H531.9V2278.75H523.3" fill="none" stroke="#000" stroke-width="5.7"/>
<text x="547" y="2239.5" font-size="32" letter-spacing="9" font-weight="bold">****</text>
<rect x="806.1" y="2066.15" width="63.5" height="6.1" fill="#0000ff"/>
<circle cx="837.85" cy="2069.2" r="5.7" fill="#0000ff"/>
<text x="906.1" y="2078.4" font-size="27" textLength="49" lengthAdjust="spacing">IgG</text>
<rect x="806.1" y="2121.85" width="63.5" height="6.1" fill="#ff0000"/>
<rect x="831.85" y="2118.9" width="12" height="12" fill="#ff0000"/>
<text x="906.1" y="2134.8" font-size="27" textLength="117.8" lengthAdjust="spacing">anti-PD1</text>
<text x="830" y="2278.4" font-size="27" textLength="68.3" lengthAdjust="spacing">n=14</text>
<line x1="918.26" y1="2317" x2="918.26" y2="2327" stroke="#ff0000" stroke-width="2.6"/>
<line x1="912.51" y1="2317" x2="924.01" y2="2317" stroke="#ff0000" stroke-width="2.6"/>
<line x1="912.51" y1="2327" x2="924.01" y2="2327" stroke="#ff0000" stroke-width="2.6"/>
<line x1="965.84" y1="2297.5" x2="965.84" y2="2312.5" stroke="#ff0000" stroke-width="2.6"/>
<line x1="960.09" y1="2297.5" x2="971.59" y2="2297.5" stroke="#ff0000" stroke-width="2.6"/>
<line x1="960.09" y1="2312.5" x2="971.59" y2="2312.5" stroke="#ff0000" stroke-width="2.6"/>
<line x1="1013.42" y1="2267.6" x2="1013.42" y2="2291.6" stroke="#ff0000" stroke-width="2.6"/>
<line x1="1007.67" y1="2267.6" x2="1019.17" y2="2267.6" stroke="#ff0000" stroke-width="2.6"/>
<line x1="1007.67" y1="2291.6" x2="1019.17" y2="2291.6" stroke="#ff0000" stroke-width="2.6"/>
<line x1="1061" y1="2234.1" x2="1061" y2="2270.2" stroke="#ff0000" stroke-width="2.6"/>
<line x1="1055.25" y1="2234.1" x2="1066.75" y2="2234.1" stroke="#ff0000" stroke-width="2.6"/>
<line x1="1055.25" y1="2270.2" x2="1066.75" y2="2270.2" stroke="#ff0000" stroke-width="2.6"/>
<line x1="1108.58" y1="2170.2" x2="1108.58" y2="2225.3" stroke="#ff0000" stroke-width="2.6"/>
<line x1="1102.83" y1="2170.2" x2="1114.33" y2="2170.2" stroke="#ff0000" stroke-width="2.6"/>
<line x1="1102.83" y1="2225.3" x2="1114.33" y2="2225.3" stroke="#ff0000" stroke-width="2.6"/>
<polyline points="823.1,2347.8 870.68,2334.4 918.26,2322.2 965.84,2304.9 1013.42,2280 1061,2252.2 1108.58,2197.8" fill="none" stroke="#ff0000" stroke-width="6.2" stroke-linejoin="round" stroke-linecap="butt"/>
<rect x="817.1" y="2341.8" width="12" height="12" fill="#ff0000"/>
<rect x="864.68" y="2328.4" width="12" height="12" fill="#ff0000"/>
<rect x="912.26" y="2316.2" width="12" height="12" fill="#ff0000"/>
<rect x="959.84" y="2298.9" width="12" height="12" fill="#ff0000"/>
<rect x="1007.42" y="2274" width="12" height="12" fill="#ff0000"/>
<rect x="1055" y="2246.2" width="12" height="12" fill="#ff0000"/>
<rect x="1102.58" y="2191.8" width="12" height="12" fill="#ff0000"/>
<line x1="918.26" y1="2306" x2="918.26" y2="2316" stroke="#0000ff" stroke-width="2.6"/>
<line x1="912.51" y1="2306" x2="924.01" y2="2306" stroke="#0000ff" stroke-width="2.6"/>
<line x1="912.51" y1="2316" x2="924.01" y2="2316" stroke="#0000ff" stroke-width="2.6"/>
<line x1="965.84" y1="2270.2" x2="965.84" y2="2288" stroke="#0000ff" stroke-width="2.6"/>
<line x1="960.09" y1="2270.2" x2="971.59" y2="2270.2" stroke="#0000ff" stroke-width="2.6"/>
<line x1="960.09" y1="2288" x2="971.59" y2="2288" stroke="#0000ff" stroke-width="2.6"/>
<line x1="1013.42" y1="2214.7" x2="1013.42" y2="2245.7" stroke="#0000ff" stroke-width="2.6"/>
<line x1="1007.67" y1="2214.7" x2="1019.17" y2="2214.7" stroke="#0000ff" stroke-width="2.6"/>
<line x1="1007.67" y1="2245.7" x2="1019.17" y2="2245.7" stroke="#0000ff" stroke-width="2.6"/>
<line x1="1061" y1="2146.7" x2="1061" y2="2189" stroke="#0000ff" stroke-width="2.6"/>
<line x1="1055.25" y1="2146.7" x2="1066.75" y2="2146.7" stroke="#0000ff" stroke-width="2.6"/>
<line x1="1055.25" y1="2189" x2="1066.75" y2="2189" stroke="#0000ff" stroke-width="2.6"/>
<line x1="1108.58" y1="2060" x2="1108.58" y2="2122.2" stroke="#0000ff" stroke-width="2.6"/>
<line x1="1102.83" y1="2060" x2="1114.33" y2="2060" stroke="#0000ff" stroke-width="2.6"/>
<line x1="1102.83" y1="2122.2" x2="1114.33" y2="2122.2" stroke="#0000ff" stroke-width="2.6"/>
<polyline points="823.1,2349.8 870.68,2333.6 918.26,2311 965.84,2278.8 1013.42,2229.8 1061,2167.1 1108.58,2091.6" fill="none" stroke="#0000ff" stroke-width="6.2" stroke-linejoin="round" stroke-linecap="butt"/>
<circle cx="823.1" cy="2349.8" r="6.1" fill="#0000ff"/>
<circle cx="870.68" cy="2333.6" r="6.1" fill="#0000ff"/>
<circle cx="918.26" cy="2311" r="6.1" fill="#0000ff"/>
<circle cx="965.84" cy="2278.8" r="6.1" fill="#0000ff"/>
<circle cx="1013.42" cy="2229.8" r="6.1" fill="#0000ff"/>
<circle cx="1061" cy="2167.1" r="6.1" fill="#0000ff"/>
<circle cx="1108.58" cy="2091.6" r="6.1" fill="#0000ff"/>
<rect x="788.4" y="2046.8" width="6" height="331.2" fill="#000"/>
<rect x="774.5" y="2372" width="369.4" height="6" fill="#000"/>
<rect x="774.5" y="2046.8" width="16.9" height="6" fill="#000"/>
<text x="766.8" y="2059.7" font-size="28" text-anchor="end">1500</text>
<rect x="774.5" y="2155.6" width="16.9" height="6" fill="#000"/>
<text x="766.8" y="2168.5" font-size="28" text-anchor="end">1000</text>
<rect x="774.5" y="2263.7" width="16.9" height="6" fill="#000"/>
<text x="766.8" y="2276.6" font-size="28" text-anchor="end">500</text>
<rect x="774.5" y="2372" width="16.9" height="6" fill="#000"/>
<text x="766.8" y="2384.9" font-size="28" text-anchor="end">0</text>
<rect x="820.1" y="2375" width="6" height="17.5" fill="#000"/>
<text transform="translate(830.3 2420.8) rotate(-45)" font-size="28" text-anchor="end">0</text>
<rect x="867.68" y="2375" width="6" height="17.5" fill="#000"/>
<text transform="translate(877.88 2420.8) rotate(-45)" font-size="28" text-anchor="end">3</text>
<rect x="915.26" y="2375" width="6" height="17.5" fill="#000"/>
<text transform="translate(925.46 2420.8) rotate(-45)" font-size="28" text-anchor="end">6</text>
<rect x="962.84" y="2375" width="6" height="17.5" fill="#000"/>
<text transform="translate(973.04 2420.8) rotate(-45)" font-size="28" text-anchor="end">9</text>
<rect x="1010.42" y="2375" width="6" height="17.5" fill="#000"/>
<text transform="translate(1020.62 2420.8) rotate(-45)" font-size="28" text-anchor="end">12</text>
<rect x="1058" y="2375" width="6" height="17.5" fill="#000"/>
<text transform="translate(1068.2 2420.8) rotate(-45)" font-size="28" text-anchor="end">15</text>
<rect x="1105.58" y="2375" width="6" height="17.5" fill="#000"/>
<text transform="translate(1115.78 2420.8) rotate(-45)" font-size="28" text-anchor="end">18</text>
<text x="873.1" y="2004.9" font-size="31" textLength="189.1" lengthAdjust="spacing">YUMM2.1 WT</text>
<text transform="translate(679.2 2361) rotate(-90)" font-size="31" letter-spacing="-0.15">Tumor volume (mm<tspan dy="-13.95" font-size="24.18">3)</tspan></text>
<text x="822.3" y="2493" font-size="31" textLength="291.5" lengthAdjust="spacing">Days after treatment</text>
<path d="M1125.6 2088.95H1134.2V2198.95H1125.6" fill="none" stroke="#000" stroke-width="5.7"/>
<text x="1170" y="2161.5" font-size="32" letter-spacing="9" font-weight="bold">****</text>
<rect x="1406.1" y="2061.45" width="63.3" height="6.1" fill="#0000ff"/>
<circle cx="1437.75" cy="2064.5" r="5.7" fill="#0000ff"/>
<text x="1506.1" y="2073.7" font-size="27" textLength="49" lengthAdjust="spacing">IgG</text>
<rect x="1406.1" y="2114.75" width="63.3" height="6.1" fill="#ff0000"/>
<rect x="1431.75" y="2111.8" width="12" height="12" fill="#ff0000"/>
<text x="1506.1" y="2126.9" font-size="27" textLength="117.8" lengthAdjust="spacing">anti-PD1</text>
<text x="1416" y="2282.4" font-size="27" textLength="68.3" lengthAdjust="spacing">n=14</text>
<line x1="1568.65" y1="2273" x2="1568.65" y2="2288" stroke="#ff0000" stroke-width="2.6"/>
<line x1="1562.9" y1="2273" x2="1574.4" y2="2273" stroke="#ff0000" stroke-width="2.6"/>
<line x1="1562.9" y1="2288" x2="1574.4" y2="2288" stroke="#ff0000" stroke-width="2.6"/>
<line x1="1616.3" y1="2229.4" x2="1616.3" y2="2266.1" stroke="#ff0000" stroke-width="2.6"/>
<line x1="1610.55" y1="2229.4" x2="1622.05" y2="2229.4" stroke="#ff0000" stroke-width="2.6"/>
<line x1="1610.55" y1="2266.1" x2="1622.05" y2="2266.1" stroke="#ff0000" stroke-width="2.6"/>
<line x1="1663.95" y1="2190.6" x2="1663.95" y2="2235.5" stroke="#ff0000" stroke-width="2.6"/>
<line x1="1658.2" y1="2190.6" x2="1669.7" y2="2190.6" stroke="#ff0000" stroke-width="2.6"/>
<line x1="1658.2" y1="2235.5" x2="1669.7" y2="2235.5" stroke="#ff0000" stroke-width="2.6"/>
<line x1="1711.6" y1="2125.7" x2="1711.6" y2="2185.5" stroke="#ff0000" stroke-width="2.6"/>
<line x1="1705.85" y1="2125.7" x2="1717.35" y2="2125.7" stroke="#ff0000" stroke-width="2.6"/>
<line x1="1705.85" y1="2185.5" x2="1717.35" y2="2185.5" stroke="#ff0000" stroke-width="2.6"/>
<polyline points="1425.7,2348.8 1473.35,2332.4 1521,2312.5 1568.65,2280.4 1616.3,2247.8 1663.95,2211 1711.6,2155.9" fill="none" stroke="#ff0000" stroke-width="6.2" stroke-linejoin="round" stroke-linecap="butt"/>
<rect x="1419.7" y="2342.8" width="12" height="12" fill="#ff0000"/>
<rect x="1467.35" y="2326.4" width="12" height="12" fill="#ff0000"/>
<rect x="1515" y="2306.5" width="12" height="12" fill="#ff0000"/>
<rect x="1562.65" y="2274.4" width="12" height="12" fill="#ff0000"/>
<rect x="1610.3" y="2241.8" width="12" height="12" fill="#ff0000"/>
<rect x="1657.95" y="2205" width="12" height="12" fill="#ff0000"/>
<rect x="1705.6" y="2149.9" width="12" height="12" fill="#ff0000"/>
<line x1="1521" y1="2316" x2="1521" y2="2325.5" stroke="#0000ff" stroke-width="2.6"/>
<line x1="1515.25" y1="2316" x2="1526.75" y2="2316" stroke="#0000ff" stroke-width="2.6"/>
<line x1="1515.25" y1="2325.5" x2="1526.75" y2="2325.5" stroke="#0000ff" stroke-width="2.6"/>
<line x1="1568.65" y1="2279.4" x2="1568.65" y2="2298.8" stroke="#0000ff" stroke-width="2.6"/>
<line x1="1562.9" y1="2279.4" x2="1574.4" y2="2279.4" stroke="#0000ff" stroke-width="2.6"/>
<line x1="1562.9" y1="2298.8" x2="1574.4" y2="2298.8" stroke="#0000ff" stroke-width="2.6"/>
<line x1="1616.3" y1="2237.1" x2="1616.3" y2="2265.5" stroke="#0000ff" stroke-width="2.6"/>
<line x1="1610.55" y1="2237.1" x2="1622.05" y2="2237.1" stroke="#0000ff" stroke-width="2.6"/>
<line x1="1610.55" y1="2265.5" x2="1622.05" y2="2265.5" stroke="#0000ff" stroke-width="2.6"/>
<line x1="1663.95" y1="2182.4" x2="1663.95" y2="2221.8" stroke="#0000ff" stroke-width="2.6"/>
<line x1="1658.2" y1="2182.4" x2="1669.7" y2="2182.4" stroke="#0000ff" stroke-width="2.6"/>
<line x1="1658.2" y1="2221.8" x2="1669.7" y2="2221.8" stroke="#0000ff" stroke-width="2.6"/>
<line x1="1711.6" y1="2112" x2="1711.6" y2="2168.2" stroke="#0000ff" stroke-width="2.6"/>
<line x1="1705.85" y1="2112" x2="1717.35" y2="2112" stroke="#0000ff" stroke-width="2.6"/>
<line x1="1705.85" y1="2168.2" x2="1717.35" y2="2168.2" stroke="#0000ff" stroke-width="2.6"/>
<polyline points="1425.7,2350.8 1473.35,2335.9 1521,2320.7 1568.65,2288.6 1616.3,2251.4 1663.95,2202.9 1711.6,2140.2" fill="none" stroke="#0000ff" stroke-width="6.2" stroke-linejoin="round" stroke-linecap="butt"/>
<circle cx="1425.7" cy="2350.8" r="6.1" fill="#0000ff"/>
<circle cx="1473.35" cy="2335.9" r="6.1" fill="#0000ff"/>
<circle cx="1521" cy="2320.7" r="6.1" fill="#0000ff"/>
<circle cx="1568.65" cy="2288.6" r="6.1" fill="#0000ff"/>
<circle cx="1616.3" cy="2251.4" r="6.1" fill="#0000ff"/>
<circle cx="1663.95" cy="2202.9" r="6.1" fill="#0000ff"/>
<circle cx="1711.6" cy="2140.2" r="6.1" fill="#0000ff"/>
<rect x="1391.1" y="2044.1" width="6" height="332.2" fill="#000"/>
<rect x="1376.7" y="2370.3" width="370.2" height="6" fill="#000"/>
<rect x="1376.7" y="2044.1" width="17.4" height="6" fill="#000"/>
<text x="1369.3" y="2057" font-size="28" text-anchor="end">1500</text>
<rect x="1376.7" y="2152.9" width="17.4" height="6" fill="#000"/>
<text x="1369.3" y="2165.8" font-size="28" text-anchor="end">1000</text>
<rect x="1376.7" y="2261.7" width="17.4" height="6" fill="#000"/>
<text x="1369.3" y="2274.6" font-size="28" text-anchor="end">500</text>
<rect x="1376.7" y="2370.3" width="17.4" height="6" fill="#000"/>
<text x="1369.3" y="2383.2" font-size="28" text-anchor="end">0</text>
<rect x="1422.7" y="2373.3" width="6" height="17.5" fill="#000"/>
<text transform="translate(1432.9 2419.1) rotate(-45)" font-size="28" text-anchor="end">0</text>
<rect x="1470.35" y="2373.3" width="6" height="17.5" fill="#000"/>
<text transform="translate(1480.55 2419.1) rotate(-45)" font-size="28" text-anchor="end">3</text>
<rect x="1518" y="2373.3" width="6" height="17.5" fill="#000"/>
<text transform="translate(1528.2 2419.1) rotate(-45)" font-size="28" text-anchor="end">6</text>
<rect x="1565.65" y="2373.3" width="6" height="17.5" fill="#000"/>
<text transform="translate(1575.85 2419.1) rotate(-45)" font-size="28" text-anchor="end">9</text>
<rect x="1613.3" y="2373.3" width="6" height="17.5" fill="#000"/>
<text transform="translate(1623.5 2419.1) rotate(-45)" font-size="28" text-anchor="end">12</text>
<rect x="1660.95" y="2373.3" width="6" height="17.5" fill="#000"/>
<text transform="translate(1671.15 2419.1) rotate(-45)" font-size="28" text-anchor="end">15</text>
<rect x="1708.6" y="2373.3" width="6" height="17.5" fill="#000"/>
<text transform="translate(1718.8 2419.1) rotate(-45)" font-size="28" text-anchor="end">18</text>
<text x="1461.8" y="2005.9" font-size="31" textLength="217.4" lengthAdjust="spacing">YUMM2.1 dHLH</text>
<text transform="translate(1281.8 2359.6) rotate(-90)" font-size="31" letter-spacing="-0.15">Tumor volume (mm<tspan dy="-13.95" font-size="24.18">3)</tspan></text>
<text x="1424.5" y="2492.5" font-size="31" textLength="291.5" lengthAdjust="spacing">Days after treatment</text>
</svg></body></html>
